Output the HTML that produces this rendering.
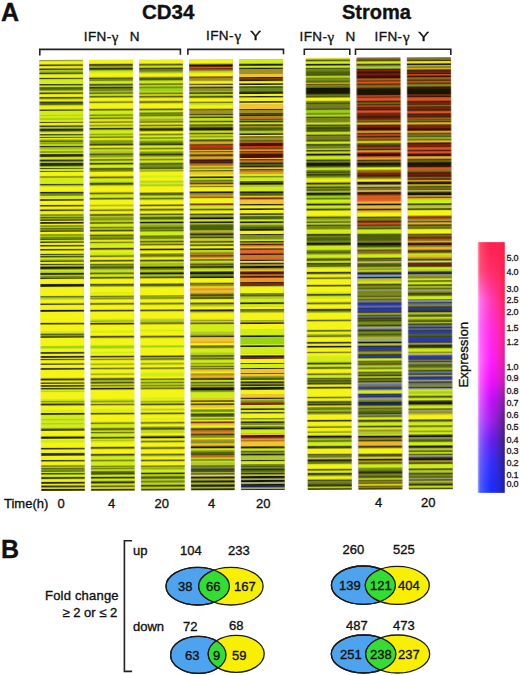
<!DOCTYPE html>
<html><head><meta charset="utf-8">
<style>
html,body{margin:0;padding:0;background:#fff;}
body{width:520px;height:675px;position:relative;overflow:hidden;font-family:"Liberation Sans",sans-serif;color:#111;}
.t{position:absolute;white-space:nowrap;line-height:1;-webkit-text-stroke:0.35px #111;}
.ifn{font-size:13.5px;letter-spacing:0.4px;}
svg{position:absolute;left:0;top:0;}
</style></head><body>
<svg width="520" height="675" viewBox="0 0 520 675">
<defs>
<linearGradient id="cbv" x1="0" y1="0" x2="0" y2="1">
<stop offset="0" stop-color="#ff1030"/>
<stop offset="0.35" stop-color="#ff20a0"/>
<stop offset="0.55" stop-color="#ff20ff"/>
<stop offset="0.75" stop-color="#a020ff"/>
<stop offset="1" stop-color="#1010ff"/>
</linearGradient>
<linearGradient id="cbh" x1="0" y1="0" x2="1" y2="0">
<stop offset="0" stop-color="#fff" stop-opacity="0.55"/>
<stop offset="0.5" stop-color="#fff" stop-opacity="0.1"/>
<stop offset="0.85" stop-color="#000" stop-opacity="0.0"/>
<stop offset="1" stop-color="#000" stop-opacity="0.35"/>
</linearGradient>
</defs>
<filter id="hb" x="-5%" y="-5%" width="110%" height="110%"><feGaussianBlur stdDeviation="0.45 0.35"/></filter>
<g transform="rotate(-0.25 260 275)" filter="url(#hb)">
<rect x="40.4" y="59.2" width="43.4" height="430.65000000000003" fill="#d8e020"/>
<rect x="40.4" y="59.20" width="43.4" height="0.44" fill="#141200"/>
<rect x="40.4" y="59.64" width="43.4" height="1.00" fill="#b0c830"/>
<rect x="40.4" y="60.64" width="43.4" height="3.00" fill="#f4f414"/>
<rect x="40.4" y="63.64" width="43.4" height="1.70" fill="#141200"/>
<rect x="40.4" y="65.34" width="43.4" height="2.30" fill="#f4f414"/>
<rect x="40.4" y="67.64" width="43.4" height="1.50" fill="#141200"/>
<rect x="40.4" y="69.14" width="43.4" height="1.50" fill="#b0c830"/>
<rect x="40.4" y="70.64" width="43.4" height="1.30" fill="#7e9c18"/>
<rect x="40.4" y="71.94" width="43.4" height="1.20" fill="#232c08"/>
<rect x="40.4" y="73.14" width="43.4" height="1.00" fill="#b0c830"/>
<rect x="40.4" y="74.14" width="43.4" height="2.80" fill="#f4f414"/>
<rect x="40.4" y="76.94" width="43.4" height="1.40" fill="#141200"/>
<rect x="40.4" y="78.34" width="43.4" height="3.80" fill="#d0ee14"/>
<rect x="40.4" y="82.14" width="43.4" height="1.00" fill="#f4f414"/>
<rect x="40.4" y="83.14" width="43.4" height="1.50" fill="#141200"/>
<rect x="40.4" y="84.64" width="43.4" height="1.50" fill="#d0ee14"/>
<rect x="40.4" y="86.14" width="43.4" height="2.50" fill="#4a6010"/>
<rect x="40.4" y="88.64" width="43.4" height="1.00" fill="#232c08"/>
<rect x="40.4" y="89.64" width="43.4" height="2.00" fill="#d0ee14"/>
<rect x="40.4" y="91.64" width="43.4" height="1.70" fill="#141200"/>
<rect x="40.4" y="93.34" width="43.4" height="2.80" fill="#f4f414"/>
<rect x="40.4" y="96.14" width="43.4" height="1.50" fill="#232c08"/>
<rect x="40.4" y="97.64" width="43.4" height="1.00" fill="#7e9c18"/>
<rect x="40.4" y="98.64" width="43.4" height="2.00" fill="#f4f414"/>
<rect x="40.4" y="100.64" width="43.4" height="1.30" fill="#232c08"/>
<rect x="40.4" y="101.94" width="43.4" height="2.20" fill="#4a6010"/>
<rect x="40.4" y="104.14" width="43.4" height="1.20" fill="#b0c830"/>
<rect x="40.4" y="105.34" width="43.4" height="3.30" fill="#f4f414"/>
<rect x="40.4" y="108.64" width="43.4" height="1.30" fill="#141200"/>
<rect x="40.4" y="109.94" width="43.4" height="4.20" fill="#d0ee14"/>
<rect x="40.4" y="114.14" width="43.4" height="1.00" fill="#b0c830"/>
<rect x="40.4" y="115.14" width="43.4" height="2.50" fill="#d0ee14"/>
<rect x="40.4" y="117.64" width="43.4" height="1.00" fill="#7e9c18"/>
<rect x="40.4" y="118.64" width="43.4" height="0.50" fill="#d0ee14"/>
<rect x="40.4" y="119.14" width="43.4" height="2.00" fill="#d0ee14"/>
<rect x="40.4" y="121.14" width="43.4" height="1.00" fill="#141200"/>
<rect x="40.4" y="122.14" width="43.4" height="2.50" fill="#f4f414"/>
<rect x="40.4" y="124.64" width="43.4" height="1.30" fill="#141200"/>
<rect x="40.4" y="125.94" width="43.4" height="1.20" fill="#b0c830"/>
<rect x="40.4" y="127.14" width="43.4" height="0.80" fill="#7e9c18"/>
<rect x="40.4" y="127.94" width="43.4" height="2.70" fill="#232c08"/>
<rect x="40.4" y="130.64" width="43.4" height="1.00" fill="#b0c830"/>
<rect x="40.4" y="131.64" width="43.4" height="1.50" fill="#f4f414"/>
<rect x="40.4" y="133.14" width="43.4" height="1.00" fill="#232c08"/>
<rect x="40.4" y="134.14" width="43.4" height="1.00" fill="#7e9c18"/>
<rect x="40.4" y="135.14" width="43.4" height="1.00" fill="#d0ee14"/>
<rect x="40.4" y="136.14" width="43.4" height="1.00" fill="#141200"/>
<rect x="40.4" y="137.14" width="43.4" height="1.50" fill="#f4f414"/>
<rect x="40.4" y="138.64" width="43.4" height="1.00" fill="#7e9c18"/>
<rect x="40.4" y="139.64" width="43.4" height="2.00" fill="#4a6010"/>
<rect x="40.4" y="141.64" width="43.4" height="1.00" fill="#d0ee14"/>
<rect x="40.4" y="142.64" width="43.4" height="0.70" fill="#141200"/>
<rect x="40.4" y="143.34" width="43.4" height="1.60" fill="#d0ee14"/>
<rect x="40.4" y="144.94" width="43.4" height="1.20" fill="#141200"/>
<rect x="40.4" y="146.14" width="43.4" height="1.50" fill="#7e9c18"/>
<rect x="40.4" y="147.64" width="43.4" height="1.50" fill="#b0c830"/>
<rect x="40.4" y="149.14" width="43.4" height="1.50" fill="#d0ee14"/>
<rect x="40.4" y="150.64" width="43.4" height="1.00" fill="#232c08"/>
<rect x="40.4" y="151.64" width="43.4" height="1.50" fill="#d0ee14"/>
<rect x="40.4" y="153.14" width="43.4" height="3.20" fill="#232c08"/>
<rect x="40.4" y="156.34" width="43.4" height="1.30" fill="#d0ee14"/>
<rect x="40.4" y="157.64" width="43.4" height="1.00" fill="#f4f414"/>
<rect x="40.4" y="158.64" width="43.4" height="2.00" fill="#141200"/>
<rect x="40.4" y="160.64" width="43.4" height="1.30" fill="#b0c830"/>
<rect x="40.4" y="161.94" width="43.4" height="3.70" fill="#232c08"/>
<rect x="40.4" y="165.64" width="43.4" height="1.50" fill="#d0ee14"/>
<rect x="40.4" y="167.14" width="43.4" height="1.00" fill="#141200"/>
<rect x="40.4" y="168.14" width="43.4" height="2.00" fill="#d0ee14"/>
<rect x="40.4" y="170.14" width="43.4" height="1.00" fill="#232c08"/>
<rect x="40.4" y="171.14" width="43.4" height="4.50" fill="#f4f414"/>
<rect x="40.4" y="175.64" width="43.4" height="1.00" fill="#232c08"/>
<rect x="40.4" y="176.64" width="43.4" height="6.50" fill="#d0ee14"/>
<rect x="40.4" y="183.14" width="43.4" height="1.00" fill="#141200"/>
<rect x="40.4" y="184.14" width="43.4" height="0.80" fill="#7e9c18"/>
<rect x="40.4" y="184.94" width="43.4" height="0.70" fill="#b0c830"/>
<rect x="40.4" y="185.64" width="43.4" height="5.30" fill="#f4f414"/>
<rect x="40.4" y="190.94" width="43.4" height="1.70" fill="#141200"/>
<rect x="40.4" y="192.64" width="43.4" height="2.50" fill="#6a8c1c"/>
<rect x="40.4" y="195.14" width="43.4" height="2.00" fill="#d0ee14"/>
<rect x="40.4" y="197.14" width="43.4" height="1.20" fill="#f4f414"/>
<rect x="40.4" y="198.34" width="43.4" height="1.60" fill="#141200"/>
<rect x="40.4" y="199.94" width="43.4" height="4.20" fill="#f4f414"/>
<rect x="40.4" y="204.14" width="43.4" height="1.50" fill="#141200"/>
<rect x="40.4" y="205.64" width="43.4" height="3.00" fill="#f4f414"/>
<rect x="40.4" y="208.64" width="43.4" height="1.70" fill="#141200"/>
<rect x="40.4" y="210.34" width="43.4" height="3.30" fill="#f4f414"/>
<rect x="40.4" y="213.64" width="43.4" height="1.00" fill="#232c08"/>
<rect x="40.4" y="214.64" width="43.4" height="1.30" fill="#b0c830"/>
<rect x="40.4" y="215.94" width="43.4" height="1.20" fill="#4a6010"/>
<rect x="40.4" y="217.14" width="43.4" height="1.50" fill="#7e9c18"/>
<rect x="40.4" y="218.64" width="43.4" height="1.30" fill="#232c08"/>
<rect x="40.4" y="219.94" width="43.4" height="1.20" fill="#f4f414"/>
<rect x="40.4" y="221.14" width="43.4" height="1.80" fill="#141200"/>
<rect x="40.4" y="222.94" width="43.4" height="1.70" fill="#f4f414"/>
<rect x="40.4" y="224.64" width="43.4" height="1.00" fill="#232c08"/>
<rect x="40.4" y="225.64" width="43.4" height="1.50" fill="#b0c830"/>
<rect x="40.4" y="227.14" width="43.4" height="1.50" fill="#4a6010"/>
<rect x="40.4" y="228.64" width="43.4" height="1.00" fill="#7e9c18"/>
<rect x="40.4" y="229.64" width="43.4" height="1.30" fill="#141200"/>
<rect x="40.4" y="230.94" width="43.4" height="2.70" fill="#f4f414"/>
<rect x="40.4" y="233.64" width="43.4" height="1.00" fill="#232c08"/>
<rect x="40.4" y="234.64" width="43.4" height="1.00" fill="#d0ee14"/>
<rect x="40.4" y="235.64" width="43.4" height="2.50" fill="#6a8c1c"/>
<rect x="40.4" y="238.14" width="43.4" height="1.00" fill="#232c08"/>
<rect x="40.4" y="239.14" width="43.4" height="1.50" fill="#d0ee14"/>
<rect x="40.4" y="240.64" width="43.4" height="1.50" fill="#141200"/>
<rect x="40.4" y="242.14" width="43.4" height="2.00" fill="#f4f414"/>
<rect x="40.4" y="244.14" width="43.4" height="1.50" fill="#141200"/>
<rect x="40.4" y="245.64" width="43.4" height="2.50" fill="#f4f414"/>
<rect x="40.4" y="248.14" width="43.4" height="1.50" fill="#141200"/>
<rect x="40.4" y="249.64" width="43.4" height="1.50" fill="#f4f414"/>
<rect x="40.4" y="251.14" width="43.4" height="1.80" fill="#f4f414"/>
<rect x="40.4" y="252.94" width="43.4" height="1.20" fill="#232c08"/>
<rect x="40.4" y="254.14" width="43.4" height="1.00" fill="#b0c830"/>
<rect x="40.4" y="255.14" width="43.4" height="1.50" fill="#232c08"/>
<rect x="40.4" y="256.64" width="43.4" height="1.50" fill="#d0ee14"/>
<rect x="40.4" y="258.14" width="43.4" height="1.50" fill="#b0c830"/>
<rect x="40.4" y="259.64" width="43.4" height="1.50" fill="#232c08"/>
<rect x="40.4" y="261.14" width="43.4" height="1.80" fill="#f4f414"/>
<rect x="40.4" y="262.94" width="43.4" height="1.20" fill="#232c08"/>
<rect x="40.4" y="264.14" width="43.4" height="1.50" fill="#b0c830"/>
<rect x="40.4" y="265.64" width="43.4" height="2.50" fill="#141200"/>
<rect x="40.4" y="268.14" width="43.4" height="1.00" fill="#7e9c18"/>
<rect x="40.4" y="269.14" width="43.4" height="1.50" fill="#d0ee14"/>
<rect x="40.4" y="270.64" width="43.4" height="1.50" fill="#b0c830"/>
<rect x="40.4" y="272.14" width="43.4" height="1.80" fill="#141200"/>
<rect x="40.4" y="273.94" width="43.4" height="1.20" fill="#b0c830"/>
<rect x="40.4" y="275.14" width="43.4" height="1.80" fill="#6a8c1c"/>
<rect x="40.4" y="276.94" width="43.4" height="1.20" fill="#141200"/>
<rect x="40.4" y="278.14" width="43.4" height="5.00" fill="#f4f414"/>
<rect x="40.4" y="283.14" width="43.4" height="3.00" fill="#141200"/>
<rect x="40.4" y="286.14" width="43.4" height="9.00" fill="#f4f414"/>
<rect x="40.4" y="295.14" width="43.4" height="1.50" fill="#4a6010"/>
<rect x="40.4" y="296.64" width="43.4" height="2.00" fill="#b0c830"/>
<rect x="40.4" y="298.64" width="43.4" height="4.00" fill="#f4f414"/>
<rect x="40.4" y="302.64" width="43.4" height="1.50" fill="#141200"/>
<rect x="40.4" y="304.14" width="43.4" height="4.80" fill="#f4f414"/>
<rect x="40.4" y="308.94" width="43.4" height="2.00" fill="#141200"/>
<rect x="40.4" y="310.94" width="43.4" height="7.20" fill="#f4f414"/>
<rect x="40.4" y="318.14" width="43.4" height="3.80" fill="#f4f414"/>
<rect x="40.4" y="321.94" width="43.4" height="1.70" fill="#141200"/>
<rect x="40.4" y="323.64" width="43.4" height="6.50" fill="#f4f414"/>
<rect x="40.4" y="330.14" width="43.4" height="1.50" fill="#d0ee14"/>
<rect x="40.4" y="331.64" width="43.4" height="1.00" fill="#e8e080"/>
<rect x="40.4" y="332.64" width="43.4" height="1.50" fill="#4a6010"/>
<rect x="40.4" y="334.14" width="43.4" height="1.20" fill="#7e9c18"/>
<rect x="40.4" y="335.34" width="43.4" height="1.60" fill="#232c08"/>
<rect x="40.4" y="336.94" width="43.4" height="8.20" fill="#f4f414"/>
<rect x="40.4" y="345.14" width="43.4" height="2.50" fill="#98d418"/>
<rect x="40.4" y="347.64" width="43.4" height="3.50" fill="#f4f414"/>
<rect x="40.4" y="351.14" width="43.4" height="1.80" fill="#232c08"/>
<rect x="40.4" y="352.94" width="43.4" height="2.20" fill="#f4f414"/>
<rect x="40.4" y="355.14" width="43.4" height="1.80" fill="#141200"/>
<rect x="40.4" y="356.94" width="43.4" height="1.00" fill="#f4f414"/>
<rect x="40.4" y="357.94" width="43.4" height="1.40" fill="#141200"/>
<rect x="40.4" y="359.34" width="43.4" height="3.30" fill="#f4f414"/>
<rect x="40.4" y="362.64" width="43.4" height="1.30" fill="#232c08"/>
<rect x="40.4" y="363.94" width="43.4" height="3.20" fill="#f4f414"/>
<rect x="40.4" y="367.14" width="43.4" height="1.80" fill="#232c08"/>
<rect x="40.4" y="368.94" width="43.4" height="8.70" fill="#f4f414"/>
<rect x="40.4" y="377.64" width="43.4" height="2.00" fill="#141200"/>
<rect x="40.4" y="379.64" width="43.4" height="2.00" fill="#f4f414"/>
<rect x="40.4" y="381.64" width="43.4" height="1.30" fill="#141200"/>
<rect x="40.4" y="382.94" width="43.4" height="1.20" fill="#f4f414"/>
<rect x="40.4" y="384.14" width="43.4" height="1.00" fill="#232c08"/>
<rect x="40.4" y="385.14" width="43.4" height="0.80" fill="#141200"/>
<rect x="40.4" y="385.94" width="43.4" height="1.00" fill="#f4f414"/>
<rect x="40.4" y="386.94" width="43.4" height="1.70" fill="#232c08"/>
<rect x="40.4" y="388.64" width="43.4" height="1.50" fill="#d0ee14"/>
<rect x="40.4" y="390.14" width="43.4" height="1.00" fill="#b0c830"/>
<rect x="40.4" y="391.14" width="43.4" height="7.00" fill="#f4f414"/>
<rect x="40.4" y="398.14" width="43.4" height="1.80" fill="#d0ee14"/>
<rect x="40.4" y="399.94" width="43.4" height="1.70" fill="#7e9c18"/>
<rect x="40.4" y="401.64" width="43.4" height="1.00" fill="#f4f414"/>
<rect x="40.4" y="402.64" width="43.4" height="2.00" fill="#141200"/>
<rect x="40.4" y="404.64" width="43.4" height="4.50" fill="#f4f414"/>
<rect x="40.4" y="409.14" width="43.4" height="1.50" fill="#d0ee14"/>
<rect x="40.4" y="410.64" width="43.4" height="1.50" fill="#f4f414"/>
<rect x="40.4" y="412.14" width="43.4" height="2.00" fill="#141200"/>
<rect x="40.4" y="414.14" width="43.4" height="4.00" fill="#d0ee14"/>
<rect x="40.4" y="418.14" width="43.4" height="1.50" fill="#b0c830"/>
<rect x="40.4" y="419.64" width="43.4" height="2.50" fill="#d0ee14"/>
<rect x="40.4" y="422.14" width="43.4" height="1.50" fill="#b0c830"/>
<rect x="40.4" y="423.64" width="43.4" height="3.50" fill="#d0ee14"/>
<rect x="40.4" y="427.14" width="43.4" height="1.20" fill="#7e9c18"/>
<rect x="40.4" y="428.34" width="43.4" height="1.60" fill="#141200"/>
<rect x="40.4" y="429.94" width="43.4" height="5.70" fill="#f4f414"/>
<rect x="40.4" y="435.64" width="43.4" height="2.30" fill="#141200"/>
<rect x="40.4" y="437.94" width="43.4" height="1.20" fill="#f4f414"/>
<rect x="40.4" y="439.14" width="43.4" height="2.50" fill="#d0ee14"/>
<rect x="40.4" y="441.64" width="43.4" height="5.30" fill="#f4f414"/>
<rect x="40.4" y="446.94" width="43.4" height="1.70" fill="#141200"/>
<rect x="40.4" y="448.64" width="43.4" height="3.50" fill="#f4f414"/>
<rect x="40.4" y="452.14" width="43.4" height="2.80" fill="#232c08"/>
<rect x="40.4" y="454.94" width="43.4" height="4.20" fill="#f4f414"/>
<rect x="40.4" y="459.14" width="43.4" height="1.50" fill="#141200"/>
<rect x="40.4" y="460.64" width="43.4" height="4.00" fill="#f4f414"/>
<rect x="40.4" y="464.64" width="43.4" height="1.00" fill="#232c08"/>
<rect x="40.4" y="465.64" width="43.4" height="1.50" fill="#b0c830"/>
<rect x="40.4" y="467.14" width="43.4" height="1.00" fill="#4a6010"/>
<rect x="40.4" y="468.14" width="43.4" height="1.50" fill="#6a8c1c"/>
<rect x="40.4" y="469.64" width="43.4" height="1.30" fill="#4a6010"/>
<rect x="40.4" y="470.94" width="43.4" height="1.20" fill="#d0ee14"/>
<rect x="40.4" y="472.14" width="43.4" height="1.50" fill="#141200"/>
<rect x="40.4" y="473.64" width="43.4" height="2.50" fill="#d0ee14"/>
<rect x="40.4" y="476.14" width="43.4" height="2.20" fill="#232c08"/>
<rect x="40.4" y="478.34" width="43.4" height="1.80" fill="#f4f414"/>
<rect x="40.4" y="480.14" width="43.4" height="1.00" fill="#d0ee14"/>
<rect x="40.4" y="481.14" width="43.4" height="1.80" fill="#141200"/>
<rect x="40.4" y="482.94" width="43.4" height="1.70" fill="#f4f414"/>
<rect x="40.4" y="484.64" width="43.4" height="2.00" fill="#141200"/>
<rect x="40.4" y="486.64" width="43.4" height="1.30" fill="#f4f414"/>
<rect x="40.4" y="487.94" width="43.4" height="1.91" fill="#141200"/>
<rect x="90.2" y="59.2" width="43.5" height="430.65000000000003" fill="#d8e020"/>
<rect x="90.2" y="59.20" width="43.5" height="4.15" fill="#f4f414"/>
<rect x="90.2" y="63.35" width="43.5" height="2.20" fill="#141200"/>
<rect x="90.2" y="65.55" width="43.5" height="1.30" fill="#b0c830"/>
<rect x="90.2" y="66.85" width="43.5" height="1.00" fill="#232c08"/>
<rect x="90.2" y="67.85" width="43.5" height="1.30" fill="#141200"/>
<rect x="90.2" y="69.15" width="43.5" height="1.20" fill="#7e9c18"/>
<rect x="90.2" y="70.35" width="43.5" height="2.00" fill="#d0ee14"/>
<rect x="90.2" y="72.35" width="43.5" height="4.50" fill="#f4f414"/>
<rect x="90.2" y="76.85" width="43.5" height="1.50" fill="#141200"/>
<rect x="90.2" y="78.35" width="43.5" height="1.00" fill="#7e9c18"/>
<rect x="90.2" y="79.35" width="43.5" height="1.00" fill="#232c08"/>
<rect x="90.2" y="80.35" width="43.5" height="3.00" fill="#d0ee14"/>
<rect x="90.2" y="83.35" width="43.5" height="1.50" fill="#141200"/>
<rect x="90.2" y="84.85" width="43.5" height="1.30" fill="#b0c830"/>
<rect x="90.2" y="86.15" width="43.5" height="1.70" fill="#141200"/>
<rect x="90.2" y="87.85" width="43.5" height="1.50" fill="#7e9c18"/>
<rect x="90.2" y="89.35" width="43.5" height="1.00" fill="#232c08"/>
<rect x="90.2" y="90.35" width="43.5" height="1.50" fill="#b0c830"/>
<rect x="90.2" y="91.85" width="43.5" height="1.50" fill="#141200"/>
<rect x="90.2" y="93.35" width="43.5" height="2.00" fill="#d0ee14"/>
<rect x="90.2" y="95.35" width="43.5" height="1.50" fill="#232c08"/>
<rect x="90.2" y="96.85" width="43.5" height="4.00" fill="#f4f414"/>
<rect x="90.2" y="100.85" width="43.5" height="1.50" fill="#232c08"/>
<rect x="90.2" y="102.35" width="43.5" height="6.00" fill="#f4f414"/>
<rect x="90.2" y="108.35" width="43.5" height="1.50" fill="#232c08"/>
<rect x="90.2" y="109.85" width="43.5" height="4.00" fill="#d0ee14"/>
<rect x="90.2" y="113.85" width="43.5" height="1.50" fill="#4a6010"/>
<rect x="90.2" y="115.35" width="43.5" height="1.50" fill="#d0ee14"/>
<rect x="90.2" y="116.85" width="43.5" height="1.50" fill="#232c08"/>
<rect x="90.2" y="118.35" width="43.5" height="1.00" fill="#d0ee14"/>
<rect x="90.2" y="119.35" width="43.5" height="1.50" fill="#f4f414"/>
<rect x="90.2" y="120.85" width="43.5" height="1.30" fill="#141200"/>
<rect x="90.2" y="122.15" width="43.5" height="1.70" fill="#f4f414"/>
<rect x="90.2" y="123.85" width="43.5" height="2.00" fill="#7e9c18"/>
<rect x="90.2" y="125.85" width="43.5" height="1.30" fill="#f4f414"/>
<rect x="90.2" y="127.15" width="43.5" height="2.20" fill="#232c08"/>
<rect x="90.2" y="129.35" width="43.5" height="4.00" fill="#d0ee14"/>
<rect x="90.2" y="133.35" width="43.5" height="1.00" fill="#4a6010"/>
<rect x="90.2" y="134.35" width="43.5" height="1.50" fill="#d0ee14"/>
<rect x="90.2" y="135.85" width="43.5" height="1.50" fill="#232c08"/>
<rect x="90.2" y="137.35" width="43.5" height="2.00" fill="#f4f414"/>
<rect x="90.2" y="139.35" width="43.5" height="4.00" fill="#7e9c18"/>
<rect x="90.2" y="143.35" width="43.5" height="1.80" fill="#141200"/>
<rect x="90.2" y="145.15" width="43.5" height="2.20" fill="#f4f414"/>
<rect x="90.2" y="147.35" width="43.5" height="1.20" fill="#232c08"/>
<rect x="90.2" y="148.55" width="43.5" height="1.30" fill="#d0ee14"/>
<rect x="90.2" y="149.85" width="43.5" height="3.00" fill="#b0c830"/>
<rect x="90.2" y="152.85" width="43.5" height="1.50" fill="#141200"/>
<rect x="90.2" y="154.35" width="43.5" height="2.50" fill="#7e9c18"/>
<rect x="90.2" y="156.85" width="43.5" height="1.50" fill="#f4f414"/>
<rect x="90.2" y="158.35" width="43.5" height="2.00" fill="#4a6010"/>
<rect x="90.2" y="160.35" width="43.5" height="1.80" fill="#d0ee14"/>
<rect x="90.2" y="162.15" width="43.5" height="2.00" fill="#232c08"/>
<rect x="90.2" y="164.15" width="43.5" height="2.20" fill="#d0ee14"/>
<rect x="90.2" y="166.35" width="43.5" height="1.00" fill="#f4f414"/>
<rect x="90.2" y="167.35" width="43.5" height="1.50" fill="#232c08"/>
<rect x="90.2" y="168.85" width="43.5" height="1.00" fill="#7e9c18"/>
<rect x="90.2" y="169.85" width="43.5" height="1.00" fill="#232c08"/>
<rect x="90.2" y="170.85" width="43.5" height="5.00" fill="#f4f414"/>
<rect x="90.2" y="175.85" width="43.5" height="1.70" fill="#141200"/>
<rect x="90.2" y="177.55" width="43.5" height="3.30" fill="#d0ee14"/>
<rect x="90.2" y="180.85" width="43.5" height="1.50" fill="#b0c830"/>
<rect x="90.2" y="182.35" width="43.5" height="1.80" fill="#141200"/>
<rect x="90.2" y="184.15" width="43.5" height="0.20" fill="#f4f414"/>
<rect x="90.2" y="184.35" width="43.5" height="1.00" fill="#7e9c18"/>
<rect x="90.2" y="185.35" width="43.5" height="6.50" fill="#f4f414"/>
<rect x="90.2" y="191.85" width="43.5" height="1.70" fill="#141200"/>
<rect x="90.2" y="193.55" width="43.5" height="3.80" fill="#d0ee14"/>
<rect x="90.2" y="197.35" width="43.5" height="1.50" fill="#232c08"/>
<rect x="90.2" y="198.85" width="43.5" height="5.50" fill="#f4f414"/>
<rect x="90.2" y="204.35" width="43.5" height="1.20" fill="#7e9c18"/>
<rect x="90.2" y="205.55" width="43.5" height="3.30" fill="#f4f414"/>
<rect x="90.2" y="208.85" width="43.5" height="1.50" fill="#141200"/>
<rect x="90.2" y="210.35" width="43.5" height="3.20" fill="#f4f414"/>
<rect x="90.2" y="213.55" width="43.5" height="1.60" fill="#141200"/>
<rect x="90.2" y="215.15" width="43.5" height="1.20" fill="#b0c830"/>
<rect x="90.2" y="216.35" width="43.5" height="4.00" fill="#7e9c18"/>
<rect x="90.2" y="220.35" width="43.5" height="1.20" fill="#f4f414"/>
<rect x="90.2" y="221.55" width="43.5" height="1.60" fill="#141200"/>
<rect x="90.2" y="223.15" width="43.5" height="3.20" fill="#d0ee14"/>
<rect x="90.2" y="226.35" width="43.5" height="1.20" fill="#232c08"/>
<rect x="90.2" y="227.55" width="43.5" height="1.60" fill="#b0c830"/>
<rect x="90.2" y="229.15" width="43.5" height="1.70" fill="#232c08"/>
<rect x="90.2" y="230.85" width="43.5" height="3.00" fill="#f4f414"/>
<rect x="90.2" y="233.85" width="43.5" height="1.50" fill="#141200"/>
<rect x="90.2" y="235.35" width="43.5" height="2.00" fill="#7e9c18"/>
<rect x="90.2" y="237.35" width="43.5" height="2.00" fill="#4a6010"/>
<rect x="90.2" y="239.35" width="43.5" height="1.80" fill="#f4f414"/>
<rect x="90.2" y="241.15" width="43.5" height="1.20" fill="#141200"/>
<rect x="90.2" y="242.35" width="43.5" height="3.50" fill="#d0ee14"/>
<rect x="90.2" y="245.85" width="43.5" height="1.50" fill="#f4f414"/>
<rect x="90.2" y="247.35" width="43.5" height="2.00" fill="#141200"/>
<rect x="90.2" y="249.35" width="43.5" height="2.00" fill="#f4f414"/>
<rect x="90.2" y="251.35" width="43.5" height="3.50" fill="#d0ee14"/>
<rect x="90.2" y="254.85" width="43.5" height="1.50" fill="#141200"/>
<rect x="90.2" y="256.35" width="43.5" height="3.00" fill="#f4f414"/>
<rect x="90.2" y="259.35" width="43.5" height="1.80" fill="#232c08"/>
<rect x="90.2" y="261.15" width="43.5" height="2.00" fill="#f4f414"/>
<rect x="90.2" y="263.15" width="43.5" height="1.00" fill="#232c08"/>
<rect x="90.2" y="264.15" width="43.5" height="1.20" fill="#7e9c18"/>
<rect x="90.2" y="265.35" width="43.5" height="3.20" fill="#4a6010"/>
<rect x="90.2" y="268.55" width="43.5" height="1.30" fill="#b0c830"/>
<rect x="90.2" y="269.85" width="43.5" height="2.00" fill="#d0ee14"/>
<rect x="90.2" y="271.85" width="43.5" height="1.70" fill="#141200"/>
<rect x="90.2" y="273.55" width="43.5" height="2.80" fill="#d0ee14"/>
<rect x="90.2" y="276.35" width="43.5" height="1.80" fill="#232c08"/>
<rect x="90.2" y="278.15" width="43.5" height="5.00" fill="#f4f414"/>
<rect x="90.2" y="283.15" width="43.5" height="1.40" fill="#232c08"/>
<rect x="90.2" y="284.55" width="43.5" height="1.30" fill="#4a6010"/>
<rect x="90.2" y="285.85" width="43.5" height="6.00" fill="#f4f414"/>
<rect x="90.2" y="291.85" width="43.5" height="1.50" fill="#d0ee14"/>
<rect x="90.2" y="293.35" width="43.5" height="1.80" fill="#f4f414"/>
<rect x="90.2" y="295.15" width="43.5" height="1.20" fill="#232c08"/>
<rect x="90.2" y="296.35" width="43.5" height="1.20" fill="#b0c830"/>
<rect x="90.2" y="297.55" width="43.5" height="1.00" fill="#232c08"/>
<rect x="90.2" y="298.55" width="43.5" height="4.00" fill="#f4f414"/>
<rect x="90.2" y="302.55" width="43.5" height="1.60" fill="#141200"/>
<rect x="90.2" y="304.15" width="43.5" height="5.00" fill="#f4f414"/>
<rect x="90.2" y="309.15" width="43.5" height="1.70" fill="#141200"/>
<rect x="90.2" y="310.85" width="43.5" height="7.50" fill="#f4f414"/>
<rect x="90.2" y="318.35" width="43.5" height="1.50" fill="#d0ee14"/>
<rect x="90.2" y="319.85" width="43.5" height="1.30" fill="#7e9c18"/>
<rect x="90.2" y="321.15" width="43.5" height="1.00" fill="#f4f414"/>
<rect x="90.2" y="322.15" width="43.5" height="2.00" fill="#141200"/>
<rect x="90.2" y="324.15" width="43.5" height="6.20" fill="#f4f414"/>
<rect x="90.2" y="330.35" width="43.5" height="1.50" fill="#d0ee14"/>
<rect x="90.2" y="331.85" width="43.5" height="3.50" fill="#f4f414"/>
<rect x="90.2" y="335.35" width="43.5" height="2.00" fill="#141200"/>
<rect x="90.2" y="337.35" width="43.5" height="7.50" fill="#f4f414"/>
<rect x="90.2" y="344.85" width="43.5" height="3.00" fill="#98d418"/>
<rect x="90.2" y="347.85" width="43.5" height="3.50" fill="#f4f414"/>
<rect x="90.2" y="351.35" width="43.5" height="1.50" fill="#d0ee14"/>
<rect x="90.2" y="352.85" width="43.5" height="2.30" fill="#f4f414"/>
<rect x="90.2" y="355.15" width="43.5" height="1.70" fill="#141200"/>
<rect x="90.2" y="356.85" width="43.5" height="1.30" fill="#f4f414"/>
<rect x="90.2" y="358.15" width="43.5" height="1.20" fill="#232c08"/>
<rect x="90.2" y="359.35" width="43.5" height="3.50" fill="#f4f414"/>
<rect x="90.2" y="362.85" width="43.5" height="1.50" fill="#7e9c18"/>
<rect x="90.2" y="364.35" width="43.5" height="2.80" fill="#f4f414"/>
<rect x="90.2" y="367.15" width="43.5" height="1.40" fill="#232c08"/>
<rect x="90.2" y="368.55" width="43.5" height="4.30" fill="#f4f414"/>
<rect x="90.2" y="372.85" width="43.5" height="1.50" fill="#7e9c18"/>
<rect x="90.2" y="374.35" width="43.5" height="3.20" fill="#f4f414"/>
<rect x="90.2" y="377.55" width="43.5" height="2.00" fill="#141200"/>
<rect x="90.2" y="379.55" width="43.5" height="1.80" fill="#b0c830"/>
<rect x="90.2" y="381.35" width="43.5" height="1.80" fill="#232c08"/>
<rect x="90.2" y="383.15" width="43.5" height="1.20" fill="#f4f414"/>
<rect x="90.2" y="384.35" width="43.5" height="1.00" fill="#232c08"/>
<rect x="90.2" y="385.35" width="43.5" height="1.00" fill="#7e9c18"/>
<rect x="90.2" y="386.35" width="43.5" height="0.80" fill="#f4f414"/>
<rect x="90.2" y="387.15" width="43.5" height="2.00" fill="#141200"/>
<rect x="90.2" y="389.15" width="43.5" height="9.20" fill="#f4f414"/>
<rect x="90.2" y="398.35" width="43.5" height="1.50" fill="#d0ee14"/>
<rect x="90.2" y="399.85" width="43.5" height="2.00" fill="#7e9c18"/>
<rect x="90.2" y="401.85" width="43.5" height="1.30" fill="#f4f414"/>
<rect x="90.2" y="403.15" width="43.5" height="1.40" fill="#141200"/>
<rect x="90.2" y="404.55" width="43.5" height="4.30" fill="#f4f414"/>
<rect x="90.2" y="408.85" width="43.5" height="2.00" fill="#d0ee14"/>
<rect x="90.2" y="410.85" width="43.5" height="1.30" fill="#f4f414"/>
<rect x="90.2" y="412.15" width="43.5" height="1.70" fill="#232c08"/>
<rect x="90.2" y="413.85" width="43.5" height="8.00" fill="#f4f414"/>
<rect x="90.2" y="421.85" width="43.5" height="1.50" fill="#232c08"/>
<rect x="90.2" y="423.35" width="43.5" height="4.00" fill="#d0ee14"/>
<rect x="90.2" y="427.35" width="43.5" height="2.50" fill="#4a6010"/>
<rect x="90.2" y="429.85" width="43.5" height="1.30" fill="#f4f414"/>
<rect x="90.2" y="431.15" width="43.5" height="1.40" fill="#232c08"/>
<rect x="90.2" y="432.55" width="43.5" height="3.80" fill="#d0ee14"/>
<rect x="90.2" y="436.35" width="43.5" height="1.80" fill="#141200"/>
<rect x="90.2" y="438.15" width="43.5" height="1.20" fill="#f4f414"/>
<rect x="90.2" y="439.35" width="43.5" height="1.00" fill="#7e9c18"/>
<rect x="90.2" y="440.35" width="43.5" height="1.50" fill="#d0ee14"/>
<rect x="90.2" y="441.85" width="43.5" height="4.50" fill="#f4f414"/>
<rect x="90.2" y="446.35" width="43.5" height="2.00" fill="#141200"/>
<rect x="90.2" y="448.35" width="43.5" height="5.00" fill="#f4f414"/>
<rect x="90.2" y="453.35" width="43.5" height="2.00" fill="#141200"/>
<rect x="90.2" y="455.35" width="43.5" height="4.00" fill="#d0ee14"/>
<rect x="90.2" y="459.35" width="43.5" height="1.20" fill="#232c08"/>
<rect x="90.2" y="460.55" width="43.5" height="4.60" fill="#d0ee14"/>
<rect x="90.2" y="465.15" width="43.5" height="1.20" fill="#232c08"/>
<rect x="90.2" y="466.35" width="43.5" height="1.00" fill="#d0ee14"/>
<rect x="90.2" y="467.35" width="43.5" height="1.20" fill="#232c08"/>
<rect x="90.2" y="468.55" width="43.5" height="1.80" fill="#d0ee14"/>
<rect x="90.2" y="470.35" width="43.5" height="2.50" fill="#4a6010"/>
<rect x="90.2" y="472.85" width="43.5" height="1.30" fill="#141200"/>
<rect x="90.2" y="474.15" width="43.5" height="2.00" fill="#d0ee14"/>
<rect x="90.2" y="476.15" width="43.5" height="2.00" fill="#141200"/>
<rect x="90.2" y="478.15" width="43.5" height="2.40" fill="#d0ee14"/>
<rect x="90.2" y="480.55" width="43.5" height="2.30" fill="#141200"/>
<rect x="90.2" y="482.85" width="43.5" height="2.00" fill="#d0ee14"/>
<rect x="90.2" y="484.85" width="43.5" height="1.70" fill="#141200"/>
<rect x="90.2" y="486.55" width="43.5" height="1.60" fill="#f4f414"/>
<rect x="90.2" y="488.15" width="43.5" height="1.70" fill="#141200"/>
<rect x="140.2" y="59.2" width="43.5" height="430.65000000000003" fill="#d8e020"/>
<rect x="140.2" y="59.20" width="43.5" height="4.37" fill="#f4f414"/>
<rect x="140.2" y="63.57" width="43.5" height="1.80" fill="#141200"/>
<rect x="140.2" y="65.37" width="43.5" height="2.00" fill="#d0ee14"/>
<rect x="140.2" y="67.37" width="43.5" height="2.00" fill="#141200"/>
<rect x="140.2" y="69.37" width="43.5" height="1.00" fill="#7e9c18"/>
<rect x="140.2" y="70.37" width="43.5" height="1.00" fill="#232c08"/>
<rect x="140.2" y="71.37" width="43.5" height="1.70" fill="#b0c830"/>
<rect x="140.2" y="73.07" width="43.5" height="3.70" fill="#f4f414"/>
<rect x="140.2" y="76.77" width="43.5" height="1.00" fill="#232c08"/>
<rect x="140.2" y="77.77" width="43.5" height="2.60" fill="#4a6010"/>
<rect x="140.2" y="80.37" width="43.5" height="2.70" fill="#d0ee14"/>
<rect x="140.2" y="83.07" width="43.5" height="1.50" fill="#141200"/>
<rect x="140.2" y="84.57" width="43.5" height="1.80" fill="#d0ee14"/>
<rect x="140.2" y="86.37" width="43.5" height="1.20" fill="#232c08"/>
<rect x="140.2" y="87.57" width="43.5" height="4.00" fill="#98d418"/>
<rect x="140.2" y="91.57" width="43.5" height="1.00" fill="#d0ee14"/>
<rect x="140.2" y="92.57" width="43.5" height="1.20" fill="#141200"/>
<rect x="140.2" y="93.77" width="43.5" height="1.80" fill="#f4f414"/>
<rect x="140.2" y="95.57" width="43.5" height="1.80" fill="#141200"/>
<rect x="140.2" y="97.37" width="43.5" height="3.40" fill="#f4f414"/>
<rect x="140.2" y="100.77" width="43.5" height="1.80" fill="#141200"/>
<rect x="140.2" y="102.57" width="43.5" height="5.50" fill="#f4f414"/>
<rect x="140.2" y="108.07" width="43.5" height="2.00" fill="#4a6010"/>
<rect x="140.2" y="110.07" width="43.5" height="2.00" fill="#d0ee14"/>
<rect x="140.2" y="112.07" width="43.5" height="1.00" fill="#232c08"/>
<rect x="140.2" y="113.07" width="43.5" height="1.50" fill="#7e9c18"/>
<rect x="140.2" y="114.57" width="43.5" height="1.20" fill="#232c08"/>
<rect x="140.2" y="115.77" width="43.5" height="1.80" fill="#d0ee14"/>
<rect x="140.2" y="117.57" width="43.5" height="1.50" fill="#b0c830"/>
<rect x="140.2" y="119.07" width="43.5" height="0.50" fill="#232c08"/>
<rect x="140.2" y="119.57" width="43.5" height="1.50" fill="#b0c830"/>
<rect x="140.2" y="121.07" width="43.5" height="1.30" fill="#141200"/>
<rect x="140.2" y="122.37" width="43.5" height="2.00" fill="#f4f414"/>
<rect x="140.2" y="124.37" width="43.5" height="1.70" fill="#4a6010"/>
<rect x="140.2" y="126.07" width="43.5" height="1.30" fill="#f4f414"/>
<rect x="140.2" y="127.37" width="43.5" height="3.40" fill="#232c08"/>
<rect x="140.2" y="130.77" width="43.5" height="2.80" fill="#f4f414"/>
<rect x="140.2" y="133.57" width="43.5" height="1.20" fill="#232c08"/>
<rect x="140.2" y="134.77" width="43.5" height="2.30" fill="#d0ee14"/>
<rect x="140.2" y="137.07" width="43.5" height="1.30" fill="#232c08"/>
<rect x="140.2" y="138.37" width="43.5" height="1.70" fill="#d0ee14"/>
<rect x="140.2" y="140.07" width="43.5" height="2.00" fill="#7e9c18"/>
<rect x="140.2" y="142.07" width="43.5" height="1.50" fill="#4a6010"/>
<rect x="140.2" y="143.57" width="43.5" height="1.50" fill="#141200"/>
<rect x="140.2" y="145.07" width="43.5" height="2.70" fill="#d0ee14"/>
<rect x="140.2" y="147.77" width="43.5" height="1.30" fill="#232c08"/>
<rect x="140.2" y="149.07" width="43.5" height="1.70" fill="#f4f414"/>
<rect x="140.2" y="150.77" width="43.5" height="2.60" fill="#7e9c18"/>
<rect x="140.2" y="153.37" width="43.5" height="1.70" fill="#141200"/>
<rect x="140.2" y="155.07" width="43.5" height="1.70" fill="#7e9c18"/>
<rect x="140.2" y="156.77" width="43.5" height="1.80" fill="#f4f414"/>
<rect x="140.2" y="158.57" width="43.5" height="1.20" fill="#232c08"/>
<rect x="140.2" y="159.77" width="43.5" height="2.80" fill="#d0ee14"/>
<rect x="140.2" y="162.57" width="43.5" height="1.80" fill="#232c08"/>
<rect x="140.2" y="164.37" width="43.5" height="3.00" fill="#6a8c1c"/>
<rect x="140.2" y="167.37" width="43.5" height="1.40" fill="#141200"/>
<rect x="140.2" y="168.77" width="43.5" height="1.30" fill="#d0ee14"/>
<rect x="140.2" y="170.07" width="43.5" height="1.00" fill="#4a6010"/>
<rect x="140.2" y="171.07" width="43.5" height="4.50" fill="#f4f414"/>
<rect x="140.2" y="175.57" width="43.5" height="1.50" fill="#d0ee14"/>
<rect x="140.2" y="177.07" width="43.5" height="3.50" fill="#f4f414"/>
<rect x="140.2" y="180.57" width="43.5" height="1.50" fill="#b0c830"/>
<rect x="140.2" y="182.07" width="43.5" height="2.50" fill="#d0ee14"/>
<rect x="140.2" y="184.57" width="43.5" height="1.00" fill="#7e9c18"/>
<rect x="140.2" y="185.57" width="43.5" height="6.50" fill="#f4f414"/>
<rect x="140.2" y="192.07" width="43.5" height="1.50" fill="#232c08"/>
<rect x="140.2" y="193.57" width="43.5" height="1.80" fill="#4a6010"/>
<rect x="140.2" y="195.37" width="43.5" height="2.00" fill="#d0ee14"/>
<rect x="140.2" y="197.37" width="43.5" height="2.00" fill="#4a6010"/>
<rect x="140.2" y="199.37" width="43.5" height="4.70" fill="#f4f414"/>
<rect x="140.2" y="204.07" width="43.5" height="1.70" fill="#232c08"/>
<rect x="140.2" y="205.77" width="43.5" height="2.80" fill="#f4f414"/>
<rect x="140.2" y="208.57" width="43.5" height="1.80" fill="#141200"/>
<rect x="140.2" y="210.37" width="43.5" height="2.70" fill="#f4f414"/>
<rect x="140.2" y="213.07" width="43.5" height="2.00" fill="#4a6010"/>
<rect x="140.2" y="215.07" width="43.5" height="1.00" fill="#d0ee14"/>
<rect x="140.2" y="216.07" width="43.5" height="3.50" fill="#4a6010"/>
<rect x="140.2" y="219.57" width="43.5" height="1.50" fill="#d0ee14"/>
<rect x="140.2" y="221.07" width="43.5" height="2.00" fill="#141200"/>
<rect x="140.2" y="223.07" width="43.5" height="1.50" fill="#b0c830"/>
<rect x="140.2" y="224.57" width="43.5" height="2.50" fill="#7e9c18"/>
<rect x="140.2" y="227.07" width="43.5" height="1.50" fill="#232c08"/>
<rect x="140.2" y="228.57" width="43.5" height="1.50" fill="#7e9c18"/>
<rect x="140.2" y="230.07" width="43.5" height="1.00" fill="#232c08"/>
<rect x="140.2" y="231.07" width="43.5" height="4.00" fill="#d0ee14"/>
<rect x="140.2" y="235.07" width="43.5" height="1.00" fill="#232c08"/>
<rect x="140.2" y="236.07" width="43.5" height="1.30" fill="#7e9c18"/>
<rect x="140.2" y="237.37" width="43.5" height="1.20" fill="#232c08"/>
<rect x="140.2" y="238.57" width="43.5" height="2.00" fill="#d0ee14"/>
<rect x="140.2" y="240.57" width="43.5" height="1.80" fill="#141200"/>
<rect x="140.2" y="242.37" width="43.5" height="1.20" fill="#f4f414"/>
<rect x="140.2" y="243.57" width="43.5" height="1.50" fill="#232c08"/>
<rect x="140.2" y="245.07" width="43.5" height="3.00" fill="#f4f414"/>
<rect x="140.2" y="248.07" width="43.5" height="2.00" fill="#141200"/>
<rect x="140.2" y="250.07" width="43.5" height="1.50" fill="#f4f414"/>
<rect x="140.2" y="251.57" width="43.5" height="1.80" fill="#f4f414"/>
<rect x="140.2" y="253.37" width="43.5" height="1.20" fill="#232c08"/>
<rect x="140.2" y="254.57" width="43.5" height="0.80" fill="#7e9c18"/>
<rect x="140.2" y="255.37" width="43.5" height="1.20" fill="#232c08"/>
<rect x="140.2" y="256.57" width="43.5" height="2.80" fill="#f4f414"/>
<rect x="140.2" y="259.37" width="43.5" height="2.00" fill="#232c08"/>
<rect x="140.2" y="261.37" width="43.5" height="1.70" fill="#d0ee14"/>
<rect x="140.2" y="263.07" width="43.5" height="1.50" fill="#7e9c18"/>
<rect x="140.2" y="264.57" width="43.5" height="1.20" fill="#d0ee14"/>
<rect x="140.2" y="265.77" width="43.5" height="2.80" fill="#141200"/>
<rect x="140.2" y="268.57" width="43.5" height="1.50" fill="#7e9c18"/>
<rect x="140.2" y="270.07" width="43.5" height="1.50" fill="#d0ee14"/>
<rect x="140.2" y="271.57" width="43.5" height="2.80" fill="#141200"/>
<rect x="140.2" y="274.37" width="43.5" height="1.70" fill="#b0c830"/>
<rect x="140.2" y="276.07" width="43.5" height="1.70" fill="#141200"/>
<rect x="140.2" y="277.77" width="43.5" height="5.30" fill="#f4f414"/>
<rect x="140.2" y="283.07" width="43.5" height="1.50" fill="#232c08"/>
<rect x="140.2" y="284.57" width="43.5" height="1.80" fill="#4a6010"/>
<rect x="140.2" y="286.37" width="43.5" height="8.70" fill="#f4f414"/>
<rect x="140.2" y="295.07" width="43.5" height="1.30" fill="#232c08"/>
<rect x="140.2" y="296.37" width="43.5" height="0.70" fill="#d0ee14"/>
<rect x="140.2" y="297.07" width="43.5" height="1.50" fill="#4a6010"/>
<rect x="140.2" y="298.57" width="43.5" height="3.80" fill="#f4f414"/>
<rect x="140.2" y="302.37" width="43.5" height="2.00" fill="#4a6010"/>
<rect x="140.2" y="304.37" width="43.5" height="4.70" fill="#f4f414"/>
<rect x="140.2" y="309.07" width="43.5" height="1.70" fill="#141200"/>
<rect x="140.2" y="310.77" width="43.5" height="7.80" fill="#f4f414"/>
<rect x="140.2" y="318.57" width="43.5" height="2.50" fill="#b0c830"/>
<rect x="140.2" y="321.07" width="43.5" height="0.50" fill="#232c08"/>
<rect x="140.2" y="321.57" width="43.5" height="0.80" fill="#f4f414"/>
<rect x="140.2" y="322.37" width="43.5" height="1.40" fill="#232c08"/>
<rect x="140.2" y="323.77" width="43.5" height="5.80" fill="#f4f414"/>
<rect x="140.2" y="329.57" width="43.5" height="1.50" fill="#d0ee14"/>
<rect x="140.2" y="331.07" width="43.5" height="4.50" fill="#f4f414"/>
<rect x="140.2" y="335.57" width="43.5" height="1.80" fill="#141200"/>
<rect x="140.2" y="337.37" width="43.5" height="7.70" fill="#f4f414"/>
<rect x="140.2" y="345.07" width="43.5" height="2.00" fill="#98d418"/>
<rect x="140.2" y="347.07" width="43.5" height="8.00" fill="#f4f414"/>
<rect x="140.2" y="355.07" width="43.5" height="1.70" fill="#141200"/>
<rect x="140.2" y="356.77" width="43.5" height="1.30" fill="#b0c830"/>
<rect x="140.2" y="358.07" width="43.5" height="1.50" fill="#232c08"/>
<rect x="140.2" y="359.57" width="43.5" height="3.00" fill="#f4f414"/>
<rect x="140.2" y="362.57" width="43.5" height="1.80" fill="#7e9c18"/>
<rect x="140.2" y="364.37" width="43.5" height="2.70" fill="#f4f414"/>
<rect x="140.2" y="367.07" width="43.5" height="1.50" fill="#232c08"/>
<rect x="140.2" y="368.57" width="43.5" height="4.00" fill="#f4f414"/>
<rect x="140.2" y="372.57" width="43.5" height="3.50" fill="#d0ee14"/>
<rect x="140.2" y="376.07" width="43.5" height="2.00" fill="#f4f414"/>
<rect x="140.2" y="378.07" width="43.5" height="1.50" fill="#141200"/>
<rect x="140.2" y="379.57" width="43.5" height="2.00" fill="#d0ee14"/>
<rect x="140.2" y="381.57" width="43.5" height="1.50" fill="#4a6010"/>
<rect x="140.2" y="383.07" width="43.5" height="1.50" fill="#d0ee14"/>
<rect x="140.2" y="384.57" width="43.5" height="1.00" fill="#232c08"/>
<rect x="140.2" y="385.57" width="43.5" height="1.00" fill="#7e9c18"/>
<rect x="140.2" y="386.57" width="43.5" height="0.80" fill="#f4f414"/>
<rect x="140.2" y="387.37" width="43.5" height="1.40" fill="#232c08"/>
<rect x="140.2" y="388.77" width="43.5" height="8.80" fill="#f4f414"/>
<rect x="140.2" y="397.57" width="43.5" height="1.50" fill="#d0ee14"/>
<rect x="140.2" y="399.07" width="43.5" height="1.50" fill="#f4f414"/>
<rect x="140.2" y="400.57" width="43.5" height="1.50" fill="#7e9c18"/>
<rect x="140.2" y="402.07" width="43.5" height="1.00" fill="#d0ee14"/>
<rect x="140.2" y="403.07" width="43.5" height="1.70" fill="#141200"/>
<rect x="140.2" y="404.77" width="43.5" height="3.80" fill="#f4f414"/>
<rect x="140.2" y="408.57" width="43.5" height="1.50" fill="#b0c830"/>
<rect x="140.2" y="410.07" width="43.5" height="2.00" fill="#f4f414"/>
<rect x="140.2" y="412.07" width="43.5" height="2.00" fill="#4a6010"/>
<rect x="140.2" y="414.07" width="43.5" height="4.00" fill="#f4f414"/>
<rect x="140.2" y="418.07" width="43.5" height="1.00" fill="#d0ee14"/>
<rect x="140.2" y="419.07" width="43.5" height="2.70" fill="#f4f414"/>
<rect x="140.2" y="421.77" width="43.5" height="1.60" fill="#232c08"/>
<rect x="140.2" y="423.37" width="43.5" height="2.70" fill="#f4f414"/>
<rect x="140.2" y="426.07" width="43.5" height="1.50" fill="#7e9c18"/>
<rect x="140.2" y="427.57" width="43.5" height="2.00" fill="#232c08"/>
<rect x="140.2" y="429.57" width="43.5" height="1.50" fill="#d0ee14"/>
<rect x="140.2" y="431.07" width="43.5" height="1.50" fill="#b0c830"/>
<rect x="140.2" y="432.57" width="43.5" height="3.00" fill="#f4f414"/>
<rect x="140.2" y="435.57" width="43.5" height="2.50" fill="#141200"/>
<rect x="140.2" y="438.07" width="43.5" height="1.50" fill="#f4f414"/>
<rect x="140.2" y="439.57" width="43.5" height="0.80" fill="#f4f414"/>
<rect x="140.2" y="440.37" width="43.5" height="1.70" fill="#4a6010"/>
<rect x="140.2" y="442.07" width="43.5" height="4.70" fill="#f4f414"/>
<rect x="140.2" y="446.77" width="43.5" height="1.80" fill="#141200"/>
<rect x="140.2" y="448.57" width="43.5" height="5.00" fill="#f4f414"/>
<rect x="140.2" y="453.57" width="43.5" height="1.80" fill="#232c08"/>
<rect x="140.2" y="455.37" width="43.5" height="1.20" fill="#d0ee14"/>
<rect x="140.2" y="456.57" width="43.5" height="2.80" fill="#f4f414"/>
<rect x="140.2" y="459.37" width="43.5" height="1.40" fill="#141200"/>
<rect x="140.2" y="460.77" width="43.5" height="4.30" fill="#f4f414"/>
<rect x="140.2" y="465.07" width="43.5" height="1.50" fill="#232c08"/>
<rect x="140.2" y="466.57" width="43.5" height="1.20" fill="#d0ee14"/>
<rect x="140.2" y="467.77" width="43.5" height="1.00" fill="#4a6010"/>
<rect x="140.2" y="468.77" width="43.5" height="3.30" fill="#d0ee14"/>
<rect x="140.2" y="472.07" width="43.5" height="2.00" fill="#232c08"/>
<rect x="140.2" y="474.07" width="43.5" height="1.50" fill="#d0ee14"/>
<rect x="140.2" y="475.57" width="43.5" height="3.20" fill="#4a6010"/>
<rect x="140.2" y="478.77" width="43.5" height="1.30" fill="#d0ee14"/>
<rect x="140.2" y="480.07" width="43.5" height="1.50" fill="#4a6010"/>
<rect x="140.2" y="481.57" width="43.5" height="1.20" fill="#7e9c18"/>
<rect x="140.2" y="482.77" width="43.5" height="1.60" fill="#d0ee14"/>
<rect x="140.2" y="484.37" width="43.5" height="2.20" fill="#141200"/>
<rect x="140.2" y="486.57" width="43.5" height="1.80" fill="#d0ee14"/>
<rect x="140.2" y="488.37" width="43.5" height="1.48" fill="#141200"/>
<rect x="190.2" y="59.2" width="43.4" height="430.65000000000003" fill="#b0a020"/>
<rect x="190.2" y="59.20" width="43.4" height="4.59" fill="#f4f414"/>
<rect x="190.2" y="63.79" width="43.4" height="2.20" fill="#141200"/>
<rect x="190.2" y="65.99" width="43.4" height="1.30" fill="#7a2a10"/>
<rect x="190.2" y="67.29" width="43.4" height="0.70" fill="#e06830"/>
<rect x="190.2" y="67.99" width="43.4" height="1.60" fill="#501008"/>
<rect x="190.2" y="69.59" width="43.4" height="1.70" fill="#a09028"/>
<rect x="190.2" y="71.29" width="43.4" height="1.30" fill="#d0ee14"/>
<rect x="190.2" y="72.59" width="43.4" height="3.70" fill="#f4f414"/>
<rect x="190.2" y="76.29" width="43.4" height="1.50" fill="#7a2a10"/>
<rect x="190.2" y="77.79" width="43.4" height="3.00" fill="#a09028"/>
<rect x="190.2" y="80.79" width="43.4" height="3.00" fill="#f4f414"/>
<rect x="190.2" y="83.79" width="43.4" height="1.20" fill="#141200"/>
<rect x="190.2" y="84.99" width="43.4" height="1.60" fill="#e8e080"/>
<rect x="190.2" y="86.59" width="43.4" height="1.40" fill="#141200"/>
<rect x="190.2" y="87.99" width="43.4" height="3.30" fill="#8a9020"/>
<rect x="190.2" y="91.29" width="43.4" height="1.00" fill="#b0c830"/>
<rect x="190.2" y="92.29" width="43.4" height="1.50" fill="#141200"/>
<rect x="190.2" y="93.79" width="43.4" height="2.00" fill="#d0ee14"/>
<rect x="190.2" y="95.79" width="43.4" height="1.80" fill="#141200"/>
<rect x="190.2" y="97.59" width="43.4" height="4.20" fill="#f4f414"/>
<rect x="190.2" y="101.79" width="43.4" height="1.00" fill="#232c08"/>
<rect x="190.2" y="102.79" width="43.4" height="2.00" fill="#d0ee14"/>
<rect x="190.2" y="104.79" width="43.4" height="4.00" fill="#f4f414"/>
<rect x="190.2" y="108.79" width="43.4" height="1.20" fill="#232c08"/>
<rect x="190.2" y="109.99" width="43.4" height="2.80" fill="#a09028"/>
<rect x="190.2" y="112.79" width="43.4" height="1.20" fill="#8a9020"/>
<rect x="190.2" y="113.99" width="43.4" height="1.00" fill="#232c08"/>
<rect x="190.2" y="114.99" width="43.4" height="1.60" fill="#b0c830"/>
<rect x="190.2" y="116.59" width="43.4" height="1.40" fill="#232c08"/>
<rect x="190.2" y="117.99" width="43.4" height="1.80" fill="#d0ee14"/>
<rect x="190.2" y="119.79" width="43.4" height="1.00" fill="#d0ee14"/>
<rect x="190.2" y="120.79" width="43.4" height="1.50" fill="#232c08"/>
<rect x="190.2" y="122.29" width="43.4" height="2.00" fill="#d0ee14"/>
<rect x="190.2" y="124.29" width="43.4" height="1.30" fill="#232c08"/>
<rect x="190.2" y="125.59" width="43.4" height="1.70" fill="#8a9020"/>
<rect x="190.2" y="127.29" width="43.4" height="3.30" fill="#141200"/>
<rect x="190.2" y="130.59" width="43.4" height="2.20" fill="#d0ee14"/>
<rect x="190.2" y="132.79" width="43.4" height="1.50" fill="#232c08"/>
<rect x="190.2" y="134.29" width="43.4" height="1.50" fill="#d0ee14"/>
<rect x="190.2" y="135.79" width="43.4" height="1.50" fill="#8a9020"/>
<rect x="190.2" y="137.29" width="43.4" height="2.00" fill="#d0ee14"/>
<rect x="190.2" y="139.29" width="43.4" height="1.50" fill="#232c08"/>
<rect x="190.2" y="140.79" width="43.4" height="1.50" fill="#a09028"/>
<rect x="190.2" y="142.29" width="43.4" height="1.50" fill="#f0c430"/>
<rect x="190.2" y="143.79" width="43.4" height="1.50" fill="#501008"/>
<rect x="190.2" y="145.29" width="43.4" height="3.00" fill="#d02818"/>
<rect x="190.2" y="148.29" width="43.4" height="1.50" fill="#232c08"/>
<rect x="190.2" y="149.79" width="43.4" height="1.20" fill="#f0c430"/>
<rect x="190.2" y="150.99" width="43.4" height="1.30" fill="#232c08"/>
<rect x="190.2" y="152.29" width="43.4" height="1.50" fill="#f0c430"/>
<rect x="190.2" y="153.79" width="43.4" height="2.20" fill="#7a2a10"/>
<rect x="190.2" y="155.99" width="43.4" height="1.30" fill="#a09028"/>
<rect x="190.2" y="157.29" width="43.4" height="1.50" fill="#f0c430"/>
<rect x="190.2" y="158.79" width="43.4" height="3.00" fill="#501008"/>
<rect x="190.2" y="161.79" width="43.4" height="1.80" fill="#232c08"/>
<rect x="190.2" y="163.59" width="43.4" height="2.20" fill="#b87020"/>
<rect x="190.2" y="165.79" width="43.4" height="1.20" fill="#f0c430"/>
<rect x="190.2" y="166.99" width="43.4" height="1.80" fill="#8a9020"/>
<rect x="190.2" y="168.79" width="43.4" height="1.20" fill="#d0ee14"/>
<rect x="190.2" y="169.99" width="43.4" height="1.30" fill="#232c08"/>
<rect x="190.2" y="171.29" width="43.4" height="3.00" fill="#f0c430"/>
<rect x="190.2" y="174.29" width="43.4" height="2.00" fill="#f4f414"/>
<rect x="190.2" y="176.29" width="43.4" height="1.70" fill="#141200"/>
<rect x="190.2" y="177.99" width="43.4" height="1.80" fill="#d0ee14"/>
<rect x="190.2" y="179.79" width="43.4" height="1.20" fill="#4a6010"/>
<rect x="190.2" y="180.99" width="43.4" height="1.80" fill="#a09028"/>
<rect x="190.2" y="182.79" width="43.4" height="1.50" fill="#501008"/>
<rect x="190.2" y="184.29" width="43.4" height="0.50" fill="#f4f414"/>
<rect x="190.2" y="184.79" width="43.4" height="1.20" fill="#f0c430"/>
<rect x="190.2" y="185.99" width="43.4" height="0.80" fill="#232c08"/>
<rect x="190.2" y="186.79" width="43.4" height="4.50" fill="#f4f414"/>
<rect x="190.2" y="191.29" width="43.4" height="2.00" fill="#141200"/>
<rect x="190.2" y="193.29" width="43.4" height="2.00" fill="#a09028"/>
<rect x="190.2" y="195.29" width="43.4" height="1.50" fill="#f09428"/>
<rect x="190.2" y="196.79" width="43.4" height="1.00" fill="#232c08"/>
<rect x="190.2" y="197.79" width="43.4" height="5.50" fill="#f4f414"/>
<rect x="190.2" y="203.29" width="43.4" height="2.00" fill="#7a2a10"/>
<rect x="190.2" y="205.29" width="43.4" height="3.50" fill="#d0ee14"/>
<rect x="190.2" y="208.79" width="43.4" height="1.50" fill="#141200"/>
<rect x="190.2" y="210.29" width="43.4" height="3.30" fill="#f4f414"/>
<rect x="190.2" y="213.59" width="43.4" height="1.70" fill="#232c08"/>
<rect x="190.2" y="215.29" width="43.4" height="1.50" fill="#b0c830"/>
<rect x="190.2" y="216.79" width="43.4" height="2.50" fill="#141200"/>
<rect x="190.2" y="219.29" width="43.4" height="2.00" fill="#d0ee14"/>
<rect x="190.2" y="221.29" width="43.4" height="2.00" fill="#141200"/>
<rect x="190.2" y="223.29" width="43.4" height="1.00" fill="#d0ee14"/>
<rect x="190.2" y="224.29" width="43.4" height="6.00" fill="#4a6010"/>
<rect x="190.2" y="230.29" width="43.4" height="1.50" fill="#b0c830"/>
<rect x="190.2" y="231.79" width="43.4" height="1.50" fill="#a09028"/>
<rect x="190.2" y="233.29" width="43.4" height="2.00" fill="#232c08"/>
<rect x="190.2" y="235.29" width="43.4" height="1.50" fill="#8a9020"/>
<rect x="190.2" y="236.79" width="43.4" height="1.20" fill="#232c08"/>
<rect x="190.2" y="237.99" width="43.4" height="1.60" fill="#b0c830"/>
<rect x="190.2" y="239.59" width="43.4" height="1.20" fill="#f4f414"/>
<rect x="190.2" y="240.79" width="43.4" height="1.80" fill="#232c08"/>
<rect x="190.2" y="242.59" width="43.4" height="1.70" fill="#d0ee14"/>
<rect x="190.2" y="244.29" width="43.4" height="1.50" fill="#232c08"/>
<rect x="190.2" y="245.79" width="43.4" height="2.50" fill="#f4f414"/>
<rect x="190.2" y="248.29" width="43.4" height="1.70" fill="#141200"/>
<rect x="190.2" y="249.99" width="43.4" height="1.80" fill="#d0ee14"/>
<rect x="190.2" y="251.79" width="43.4" height="2.00" fill="#8a9020"/>
<rect x="190.2" y="253.79" width="43.4" height="1.50" fill="#b87020"/>
<rect x="190.2" y="255.29" width="43.4" height="1.30" fill="#232c08"/>
<rect x="190.2" y="256.59" width="43.4" height="1.40" fill="#f09428"/>
<rect x="190.2" y="257.99" width="43.4" height="1.30" fill="#f0c430"/>
<rect x="190.2" y="259.29" width="43.4" height="1.30" fill="#232c08"/>
<rect x="190.2" y="260.59" width="43.4" height="1.70" fill="#d0ee14"/>
<rect x="190.2" y="262.29" width="43.4" height="1.30" fill="#b0c830"/>
<rect x="190.2" y="263.59" width="43.4" height="1.20" fill="#232c08"/>
<rect x="190.2" y="264.79" width="43.4" height="1.20" fill="#8a9020"/>
<rect x="190.2" y="265.99" width="43.4" height="1.80" fill="#141200"/>
<rect x="190.2" y="267.79" width="43.4" height="1.50" fill="#b0c830"/>
<rect x="190.2" y="269.29" width="43.4" height="2.00" fill="#d0ee14"/>
<rect x="190.2" y="271.29" width="43.4" height="2.70" fill="#141200"/>
<rect x="190.2" y="273.99" width="43.4" height="2.30" fill="#6a8c1c"/>
<rect x="190.2" y="276.29" width="43.4" height="1.70" fill="#141200"/>
<rect x="190.2" y="277.99" width="43.4" height="4.80" fill="#f4f414"/>
<rect x="190.2" y="282.79" width="43.4" height="1.50" fill="#232c08"/>
<rect x="190.2" y="284.29" width="43.4" height="2.00" fill="#a09028"/>
<rect x="190.2" y="286.29" width="43.4" height="1.50" fill="#f4f414"/>
<rect x="190.2" y="287.79" width="43.4" height="2.50" fill="#f09428"/>
<rect x="190.2" y="290.29" width="43.4" height="2.50" fill="#f0c430"/>
<rect x="190.2" y="292.79" width="43.4" height="1.50" fill="#a09028"/>
<rect x="190.2" y="294.29" width="43.4" height="1.50" fill="#232c08"/>
<rect x="190.2" y="295.79" width="43.4" height="1.50" fill="#8a9020"/>
<rect x="190.2" y="297.29" width="43.4" height="1.50" fill="#232c08"/>
<rect x="190.2" y="298.79" width="43.4" height="3.80" fill="#f4f414"/>
<rect x="190.2" y="302.59" width="43.4" height="1.70" fill="#232c08"/>
<rect x="190.2" y="304.29" width="43.4" height="2.00" fill="#b0c830"/>
<rect x="190.2" y="306.29" width="43.4" height="3.00" fill="#f4f414"/>
<rect x="190.2" y="309.29" width="43.4" height="1.70" fill="#141200"/>
<rect x="190.2" y="310.99" width="43.4" height="1.30" fill="#8a9020"/>
<rect x="190.2" y="312.29" width="43.4" height="6.50" fill="#f4f414"/>
<rect x="190.2" y="318.79" width="43.4" height="1.00" fill="#f4f414"/>
<rect x="190.2" y="319.79" width="43.4" height="1.50" fill="#8a9020"/>
<rect x="190.2" y="321.29" width="43.4" height="1.30" fill="#e8e080"/>
<rect x="190.2" y="322.59" width="43.4" height="1.20" fill="#141200"/>
<rect x="190.2" y="323.79" width="43.4" height="8.00" fill="#d0ee14"/>
<rect x="190.2" y="331.79" width="43.4" height="3.00" fill="#b0c830"/>
<rect x="190.2" y="334.79" width="43.4" height="1.00" fill="#8a9020"/>
<rect x="190.2" y="335.79" width="43.4" height="1.20" fill="#141200"/>
<rect x="190.2" y="336.99" width="43.4" height="4.80" fill="#f0c430"/>
<rect x="190.2" y="341.79" width="43.4" height="1.00" fill="#f09428"/>
<rect x="190.2" y="342.79" width="43.4" height="2.50" fill="#f4f414"/>
<rect x="190.2" y="345.29" width="43.4" height="1.50" fill="#4a6010"/>
<rect x="190.2" y="346.79" width="43.4" height="1.50" fill="#6a8c1c"/>
<rect x="190.2" y="348.29" width="43.4" height="1.50" fill="#f4f414"/>
<rect x="190.2" y="349.79" width="43.4" height="3.00" fill="#d0ee14"/>
<rect x="190.2" y="352.79" width="43.4" height="2.50" fill="#b0c830"/>
<rect x="190.2" y="355.29" width="43.4" height="1.30" fill="#141200"/>
<rect x="190.2" y="356.59" width="43.4" height="1.20" fill="#b0c830"/>
<rect x="190.2" y="357.79" width="43.4" height="1.80" fill="#4a6010"/>
<rect x="190.2" y="359.59" width="43.4" height="3.20" fill="#d0ee14"/>
<rect x="190.2" y="362.79" width="43.4" height="1.50" fill="#8a9020"/>
<rect x="190.2" y="364.29" width="43.4" height="1.50" fill="#d0ee14"/>
<rect x="190.2" y="365.79" width="43.4" height="1.00" fill="#232c08"/>
<rect x="190.2" y="366.79" width="43.4" height="1.50" fill="#b0c830"/>
<rect x="190.2" y="368.29" width="43.4" height="1.00" fill="#232c08"/>
<rect x="190.2" y="369.29" width="43.4" height="2.00" fill="#f0c430"/>
<rect x="190.2" y="371.29" width="43.4" height="2.00" fill="#f4f414"/>
<rect x="190.2" y="373.29" width="43.4" height="1.50" fill="#a09028"/>
<rect x="190.2" y="374.79" width="43.4" height="1.50" fill="#f09428"/>
<rect x="190.2" y="376.29" width="43.4" height="1.50" fill="#f0c430"/>
<rect x="190.2" y="377.79" width="43.4" height="2.00" fill="#141200"/>
<rect x="190.2" y="379.79" width="43.4" height="2.00" fill="#d0ee14"/>
<rect x="190.2" y="381.79" width="43.4" height="1.50" fill="#232c08"/>
<rect x="190.2" y="383.29" width="43.4" height="1.50" fill="#b0c830"/>
<rect x="190.2" y="384.79" width="43.4" height="1.00" fill="#232c08"/>
<rect x="190.2" y="385.79" width="43.4" height="1.00" fill="#d0ee14"/>
<rect x="190.2" y="386.79" width="43.4" height="3.50" fill="#141200"/>
<rect x="190.2" y="390.29" width="43.4" height="1.50" fill="#6a8c1c"/>
<rect x="190.2" y="391.79" width="43.4" height="6.50" fill="#d0ee14"/>
<rect x="190.2" y="398.29" width="43.4" height="2.00" fill="#f0c430"/>
<rect x="190.2" y="400.29" width="43.4" height="1.50" fill="#232c08"/>
<rect x="190.2" y="401.79" width="43.4" height="1.50" fill="#f4f414"/>
<rect x="190.2" y="403.29" width="43.4" height="1.50" fill="#141200"/>
<rect x="190.2" y="404.79" width="43.4" height="2.50" fill="#f0c430"/>
<rect x="190.2" y="407.29" width="43.4" height="2.00" fill="#f4f414"/>
<rect x="190.2" y="409.29" width="43.4" height="2.50" fill="#6a8c1c"/>
<rect x="190.2" y="411.79" width="43.4" height="1.50" fill="#d0ee14"/>
<rect x="190.2" y="413.29" width="43.4" height="1.50" fill="#232c08"/>
<rect x="190.2" y="414.79" width="43.4" height="2.00" fill="#4a6010"/>
<rect x="190.2" y="416.79" width="43.4" height="1.50" fill="#d0ee14"/>
<rect x="190.2" y="418.29" width="43.4" height="1.50" fill="#6a8c1c"/>
<rect x="190.2" y="419.79" width="43.4" height="1.50" fill="#f4f414"/>
<rect x="190.2" y="421.29" width="43.4" height="2.00" fill="#7a2a10"/>
<rect x="190.2" y="423.29" width="43.4" height="2.00" fill="#f0c430"/>
<rect x="190.2" y="425.29" width="43.4" height="2.50" fill="#f4f414"/>
<rect x="190.2" y="427.79" width="43.4" height="2.00" fill="#232c08"/>
<rect x="190.2" y="429.79" width="43.4" height="2.00" fill="#b87020"/>
<rect x="190.2" y="431.79" width="43.4" height="1.00" fill="#f09428"/>
<rect x="190.2" y="432.79" width="43.4" height="1.00" fill="#b87020"/>
<rect x="190.2" y="433.79" width="43.4" height="1.50" fill="#232c08"/>
<rect x="190.2" y="435.29" width="43.4" height="2.50" fill="#8a9020"/>
<rect x="190.2" y="437.79" width="43.4" height="1.50" fill="#f4f414"/>
<rect x="190.2" y="439.29" width="43.4" height="0.50" fill="#a09028"/>
<rect x="190.2" y="439.79" width="43.4" height="1.50" fill="#a09028"/>
<rect x="190.2" y="441.29" width="43.4" height="2.00" fill="#8a9020"/>
<rect x="190.2" y="443.29" width="43.4" height="2.50" fill="#f0c430"/>
<rect x="190.2" y="445.79" width="43.4" height="2.50" fill="#141200"/>
<rect x="190.2" y="448.29" width="43.4" height="2.00" fill="#d0ee14"/>
<rect x="190.2" y="450.29" width="43.4" height="1.50" fill="#8a9020"/>
<rect x="190.2" y="451.79" width="43.4" height="2.00" fill="#4a6010"/>
<rect x="190.2" y="453.79" width="43.4" height="1.00" fill="#232c08"/>
<rect x="190.2" y="454.79" width="43.4" height="2.80" fill="#b87020"/>
<rect x="190.2" y="457.59" width="43.4" height="1.20" fill="#f4f414"/>
<rect x="190.2" y="458.79" width="43.4" height="2.00" fill="#6a8c1c"/>
<rect x="190.2" y="460.79" width="43.4" height="1.50" fill="#d0ee14"/>
<rect x="190.2" y="462.29" width="43.4" height="3.00" fill="#b0c830"/>
<rect x="190.2" y="465.29" width="43.4" height="1.50" fill="#4a6010"/>
<rect x="190.2" y="466.79" width="43.4" height="1.50" fill="#8a9020"/>
<rect x="190.2" y="468.29" width="43.4" height="2.50" fill="#2a3a40"/>
<rect x="190.2" y="470.79" width="43.4" height="1.50" fill="#4a6010"/>
<rect x="190.2" y="472.29" width="43.4" height="1.00" fill="#b0c830"/>
<rect x="190.2" y="473.29" width="43.4" height="1.30" fill="#232c08"/>
<rect x="190.2" y="474.59" width="43.4" height="1.70" fill="#e8e080"/>
<rect x="190.2" y="476.29" width="43.4" height="2.30" fill="#141200"/>
<rect x="190.2" y="478.59" width="43.4" height="1.70" fill="#b0c830"/>
<rect x="190.2" y="480.29" width="43.4" height="2.30" fill="#141200"/>
<rect x="190.2" y="482.59" width="43.4" height="1.70" fill="#b0c830"/>
<rect x="190.2" y="484.29" width="43.4" height="2.50" fill="#141200"/>
<rect x="190.2" y="486.79" width="43.4" height="1.50" fill="#b0c830"/>
<rect x="190.2" y="488.29" width="43.4" height="1.56" fill="#141200"/>
<rect x="240.2" y="59.2" width="43.5" height="430.65000000000003" fill="#a0a020"/>
<rect x="240.2" y="59.20" width="43.5" height="4.61" fill="#d0ee14"/>
<rect x="240.2" y="63.81" width="43.5" height="2.00" fill="#141200"/>
<rect x="240.2" y="65.81" width="43.5" height="2.00" fill="#d0ee14"/>
<rect x="240.2" y="67.81" width="43.5" height="1.20" fill="#141200"/>
<rect x="240.2" y="69.01" width="43.5" height="3.50" fill="#a09028"/>
<rect x="240.2" y="72.51" width="43.5" height="1.50" fill="#a09028"/>
<rect x="240.2" y="74.01" width="43.5" height="3.00" fill="#f0c430"/>
<rect x="240.2" y="77.01" width="43.5" height="1.20" fill="#2e2208"/>
<rect x="240.2" y="78.21" width="43.5" height="1.80" fill="#7a2a10"/>
<rect x="240.2" y="80.01" width="43.5" height="1.20" fill="#2e2208"/>
<rect x="240.2" y="81.21" width="43.5" height="2.30" fill="#f4f414"/>
<rect x="240.2" y="83.51" width="43.5" height="1.50" fill="#141200"/>
<rect x="240.2" y="85.01" width="43.5" height="1.20" fill="#e8e080"/>
<rect x="240.2" y="86.21" width="43.5" height="1.80" fill="#4a6010"/>
<rect x="240.2" y="88.01" width="43.5" height="3.50" fill="#6a8c1c"/>
<rect x="240.2" y="91.51" width="43.5" height="0.70" fill="#2e2208"/>
<rect x="240.2" y="92.21" width="43.5" height="1.80" fill="#141200"/>
<rect x="240.2" y="94.01" width="43.5" height="2.00" fill="#f4f414"/>
<rect x="240.2" y="96.01" width="43.5" height="1.50" fill="#141200"/>
<rect x="240.2" y="97.51" width="43.5" height="3.70" fill="#f4f414"/>
<rect x="240.2" y="101.21" width="43.5" height="1.60" fill="#2e2208"/>
<rect x="240.2" y="102.81" width="43.5" height="1.20" fill="#f4f414"/>
<rect x="240.2" y="104.01" width="43.5" height="5.00" fill="#f0c430"/>
<rect x="240.2" y="109.01" width="43.5" height="1.20" fill="#2e2208"/>
<rect x="240.2" y="110.21" width="43.5" height="2.80" fill="#a09028"/>
<rect x="240.2" y="113.01" width="43.5" height="1.50" fill="#7a2a10"/>
<rect x="240.2" y="114.51" width="43.5" height="1.50" fill="#2e2208"/>
<rect x="240.2" y="116.01" width="43.5" height="1.50" fill="#a09028"/>
<rect x="240.2" y="117.51" width="43.5" height="2.00" fill="#b87020"/>
<rect x="240.2" y="119.51" width="43.5" height="0.50" fill="#2e2208"/>
<rect x="240.2" y="120.01" width="43.5" height="1.00" fill="#7e8e1c"/>
<rect x="240.2" y="121.01" width="43.5" height="1.50" fill="#2e2208"/>
<rect x="240.2" y="122.51" width="43.5" height="2.00" fill="#d0ee14"/>
<rect x="240.2" y="124.51" width="43.5" height="1.30" fill="#2e2208"/>
<rect x="240.2" y="125.81" width="43.5" height="1.70" fill="#a09028"/>
<rect x="240.2" y="127.51" width="43.5" height="3.30" fill="#4a6010"/>
<rect x="240.2" y="130.81" width="43.5" height="2.70" fill="#b0c830"/>
<rect x="240.2" y="133.51" width="43.5" height="1.50" fill="#2e2208"/>
<rect x="240.2" y="135.01" width="43.5" height="1.50" fill="#f4f414"/>
<rect x="240.2" y="136.51" width="43.5" height="1.00" fill="#2e2208"/>
<rect x="240.2" y="137.51" width="43.5" height="3.00" fill="#a09028"/>
<rect x="240.2" y="140.51" width="43.5" height="1.00" fill="#2e2208"/>
<rect x="240.2" y="141.51" width="43.5" height="1.30" fill="#b87020"/>
<rect x="240.2" y="142.81" width="43.5" height="3.40" fill="#501008"/>
<rect x="240.2" y="146.21" width="43.5" height="2.30" fill="#d02818"/>
<rect x="240.2" y="148.51" width="43.5" height="1.00" fill="#2e2208"/>
<rect x="240.2" y="149.51" width="43.5" height="1.70" fill="#f09428"/>
<rect x="240.2" y="151.21" width="43.5" height="1.30" fill="#501008"/>
<rect x="240.2" y="152.51" width="43.5" height="1.00" fill="#b87020"/>
<rect x="240.2" y="153.51" width="43.5" height="3.50" fill="#501008"/>
<rect x="240.2" y="157.01" width="43.5" height="1.00" fill="#2e2208"/>
<rect x="240.2" y="158.01" width="43.5" height="1.20" fill="#f0c430"/>
<rect x="240.2" y="159.21" width="43.5" height="1.30" fill="#501008"/>
<rect x="240.2" y="160.51" width="43.5" height="2.00" fill="#e06830"/>
<rect x="240.2" y="162.51" width="43.5" height="1.50" fill="#2e2208"/>
<rect x="240.2" y="164.01" width="43.5" height="2.00" fill="#4a6010"/>
<rect x="240.2" y="166.01" width="43.5" height="1.50" fill="#2e2208"/>
<rect x="240.2" y="167.51" width="43.5" height="1.50" fill="#f0c430"/>
<rect x="240.2" y="169.01" width="43.5" height="1.50" fill="#7a2a10"/>
<rect x="240.2" y="170.51" width="43.5" height="1.50" fill="#a09028"/>
<rect x="240.2" y="172.01" width="43.5" height="2.00" fill="#f09428"/>
<rect x="240.2" y="174.01" width="43.5" height="2.00" fill="#d0ee14"/>
<rect x="240.2" y="176.01" width="43.5" height="1.50" fill="#7e8e1c"/>
<rect x="240.2" y="177.51" width="43.5" height="3.50" fill="#d0ee14"/>
<rect x="240.2" y="181.01" width="43.5" height="1.50" fill="#4a6010"/>
<rect x="240.2" y="182.51" width="43.5" height="2.30" fill="#141200"/>
<rect x="240.2" y="184.81" width="43.5" height="0.20" fill="#d0ee14"/>
<rect x="240.2" y="185.01" width="43.5" height="2.00" fill="#b0c830"/>
<rect x="240.2" y="187.01" width="43.5" height="4.50" fill="#d0ee14"/>
<rect x="240.2" y="191.51" width="43.5" height="1.50" fill="#141200"/>
<rect x="240.2" y="193.01" width="43.5" height="2.80" fill="#4a6010"/>
<rect x="240.2" y="195.81" width="43.5" height="1.70" fill="#f0c430"/>
<rect x="240.2" y="197.51" width="43.5" height="2.00" fill="#7a2a10"/>
<rect x="240.2" y="199.51" width="43.5" height="4.50" fill="#f0c430"/>
<rect x="240.2" y="204.01" width="43.5" height="1.50" fill="#141200"/>
<rect x="240.2" y="205.51" width="43.5" height="3.00" fill="#f4f414"/>
<rect x="240.2" y="208.51" width="43.5" height="1.50" fill="#141200"/>
<rect x="240.2" y="210.01" width="43.5" height="3.50" fill="#f4f414"/>
<rect x="240.2" y="213.51" width="43.5" height="1.30" fill="#141200"/>
<rect x="240.2" y="214.81" width="43.5" height="1.40" fill="#b0c830"/>
<rect x="240.2" y="216.21" width="43.5" height="3.30" fill="#4a6010"/>
<rect x="240.2" y="219.51" width="43.5" height="2.00" fill="#d0ee14"/>
<rect x="240.2" y="221.51" width="43.5" height="1.50" fill="#141200"/>
<rect x="240.2" y="223.01" width="43.5" height="2.00" fill="#b0c830"/>
<rect x="240.2" y="225.01" width="43.5" height="1.50" fill="#7e8e1c"/>
<rect x="240.2" y="226.51" width="43.5" height="2.50" fill="#4a6010"/>
<rect x="240.2" y="229.01" width="43.5" height="1.80" fill="#141200"/>
<rect x="240.2" y="230.81" width="43.5" height="3.20" fill="#f4f414"/>
<rect x="240.2" y="234.01" width="43.5" height="1.00" fill="#2e2208"/>
<rect x="240.2" y="235.01" width="43.5" height="4.50" fill="#7e8e1c"/>
<rect x="240.2" y="239.51" width="43.5" height="1.50" fill="#d0ee14"/>
<rect x="240.2" y="241.01" width="43.5" height="1.50" fill="#2e2208"/>
<rect x="240.2" y="242.51" width="43.5" height="1.50" fill="#a09028"/>
<rect x="240.2" y="244.01" width="43.5" height="1.50" fill="#501008"/>
<rect x="240.2" y="245.51" width="43.5" height="1.50" fill="#f09428"/>
<rect x="240.2" y="247.01" width="43.5" height="1.50" fill="#f0c430"/>
<rect x="240.2" y="248.51" width="43.5" height="1.30" fill="#2e2208"/>
<rect x="240.2" y="249.81" width="43.5" height="2.20" fill="#e06830"/>
<rect x="240.2" y="252.01" width="43.5" height="1.50" fill="#e06830"/>
<rect x="240.2" y="253.51" width="43.5" height="1.50" fill="#501008"/>
<rect x="240.2" y="255.01" width="43.5" height="1.50" fill="#a09028"/>
<rect x="240.2" y="256.51" width="43.5" height="3.30" fill="#e06830"/>
<rect x="240.2" y="259.81" width="43.5" height="1.20" fill="#2e2208"/>
<rect x="240.2" y="261.01" width="43.5" height="1.80" fill="#e8e080"/>
<rect x="240.2" y="262.81" width="43.5" height="1.20" fill="#2e2208"/>
<rect x="240.2" y="264.01" width="43.5" height="2.00" fill="#a09028"/>
<rect x="240.2" y="266.01" width="43.5" height="2.00" fill="#141200"/>
<rect x="240.2" y="268.01" width="43.5" height="1.50" fill="#a09028"/>
<rect x="240.2" y="269.51" width="43.5" height="2.00" fill="#f0c430"/>
<rect x="240.2" y="271.51" width="43.5" height="3.00" fill="#501008"/>
<rect x="240.2" y="274.51" width="43.5" height="1.50" fill="#b87020"/>
<rect x="240.2" y="276.01" width="43.5" height="1.80" fill="#501008"/>
<rect x="240.2" y="277.81" width="43.5" height="4.20" fill="#f09428"/>
<rect x="240.2" y="282.01" width="43.5" height="1.00" fill="#2e2208"/>
<rect x="240.2" y="283.01" width="43.5" height="3.00" fill="#7a2a10"/>
<rect x="240.2" y="286.01" width="43.5" height="1.00" fill="#b0c830"/>
<rect x="240.2" y="287.01" width="43.5" height="6.00" fill="#f4f414"/>
<rect x="240.2" y="293.01" width="43.5" height="1.50" fill="#7e8e1c"/>
<rect x="240.2" y="294.51" width="43.5" height="2.00" fill="#4a6010"/>
<rect x="240.2" y="296.51" width="43.5" height="2.00" fill="#b0c830"/>
<rect x="240.2" y="298.51" width="43.5" height="4.00" fill="#d0ee14"/>
<rect x="240.2" y="302.51" width="43.5" height="1.70" fill="#141200"/>
<rect x="240.2" y="304.21" width="43.5" height="2.30" fill="#d0ee14"/>
<rect x="240.2" y="306.51" width="43.5" height="2.50" fill="#f4f414"/>
<rect x="240.2" y="309.01" width="43.5" height="1.80" fill="#4a6010"/>
<rect x="240.2" y="310.81" width="43.5" height="1.70" fill="#7e8e1c"/>
<rect x="240.2" y="312.51" width="43.5" height="6.50" fill="#f4f414"/>
<rect x="240.2" y="319.01" width="43.5" height="1.50" fill="#f4f414"/>
<rect x="240.2" y="320.51" width="43.5" height="1.00" fill="#7e8e1c"/>
<rect x="240.2" y="321.51" width="43.5" height="1.00" fill="#e8e080"/>
<rect x="240.2" y="322.51" width="43.5" height="1.50" fill="#141200"/>
<rect x="240.2" y="324.01" width="43.5" height="5.00" fill="#f4f414"/>
<rect x="240.2" y="329.01" width="43.5" height="6.50" fill="#d0ee14"/>
<rect x="240.2" y="335.51" width="43.5" height="1.50" fill="#141200"/>
<rect x="240.2" y="337.01" width="43.5" height="7.00" fill="#98d418"/>
<rect x="240.2" y="344.01" width="43.5" height="1.50" fill="#d0ee14"/>
<rect x="240.2" y="345.51" width="43.5" height="1.50" fill="#141200"/>
<rect x="240.2" y="347.01" width="43.5" height="6.50" fill="#d0ee14"/>
<rect x="240.2" y="353.51" width="43.5" height="2.00" fill="#f4f414"/>
<rect x="240.2" y="355.51" width="43.5" height="1.50" fill="#141200"/>
<rect x="240.2" y="357.01" width="43.5" height="2.00" fill="#7a2a10"/>
<rect x="240.2" y="359.01" width="43.5" height="4.00" fill="#f4f414"/>
<rect x="240.2" y="363.01" width="43.5" height="1.00" fill="#2e2208"/>
<rect x="240.2" y="364.01" width="43.5" height="4.00" fill="#d0ee14"/>
<rect x="240.2" y="368.01" width="43.5" height="1.00" fill="#2e2208"/>
<rect x="240.2" y="369.01" width="43.5" height="4.00" fill="#f0c430"/>
<rect x="240.2" y="373.01" width="43.5" height="0.80" fill="#2e2208"/>
<rect x="240.2" y="373.81" width="43.5" height="2.70" fill="#f0c430"/>
<rect x="240.2" y="376.51" width="43.5" height="1.50" fill="#7e8e1c"/>
<rect x="240.2" y="378.01" width="43.5" height="2.00" fill="#4a6010"/>
<rect x="240.2" y="380.01" width="43.5" height="1.50" fill="#d0ee14"/>
<rect x="240.2" y="381.51" width="43.5" height="1.50" fill="#2e2208"/>
<rect x="240.2" y="383.01" width="43.5" height="1.50" fill="#7e8e1c"/>
<rect x="240.2" y="384.51" width="43.5" height="1.50" fill="#2e2208"/>
<rect x="240.2" y="386.01" width="43.5" height="1.00" fill="#b0c830"/>
<rect x="240.2" y="387.01" width="43.5" height="2.80" fill="#141200"/>
<rect x="240.2" y="389.81" width="43.5" height="4.20" fill="#f4f414"/>
<rect x="240.2" y="394.01" width="43.5" height="3.80" fill="#f0c430"/>
<rect x="240.2" y="397.81" width="43.5" height="1.20" fill="#2e2208"/>
<rect x="240.2" y="399.01" width="43.5" height="1.50" fill="#b0c830"/>
<rect x="240.2" y="400.51" width="43.5" height="2.00" fill="#7e8e1c"/>
<rect x="240.2" y="402.51" width="43.5" height="2.50" fill="#7a2a10"/>
<rect x="240.2" y="405.01" width="43.5" height="3.50" fill="#d0ee14"/>
<rect x="240.2" y="408.51" width="43.5" height="1.50" fill="#2e2208"/>
<rect x="240.2" y="410.01" width="43.5" height="2.20" fill="#d0ee14"/>
<rect x="240.2" y="412.21" width="43.5" height="1.30" fill="#2e2208"/>
<rect x="240.2" y="413.51" width="43.5" height="4.50" fill="#f4f414"/>
<rect x="240.2" y="418.01" width="43.5" height="1.50" fill="#7e8e1c"/>
<rect x="240.2" y="419.51" width="43.5" height="2.00" fill="#d0ee14"/>
<rect x="240.2" y="421.51" width="43.5" height="1.70" fill="#2e2208"/>
<rect x="240.2" y="423.21" width="43.5" height="2.00" fill="#7e8e1c"/>
<rect x="240.2" y="425.21" width="43.5" height="1.30" fill="#d0ee14"/>
<rect x="240.2" y="426.51" width="43.5" height="1.50" fill="#4a6010"/>
<rect x="240.2" y="428.01" width="43.5" height="1.50" fill="#141200"/>
<rect x="240.2" y="429.51" width="43.5" height="4.00" fill="#d0ee14"/>
<rect x="240.2" y="433.51" width="43.5" height="1.50" fill="#f0c430"/>
<rect x="240.2" y="435.01" width="43.5" height="2.80" fill="#501008"/>
<rect x="240.2" y="437.81" width="43.5" height="1.20" fill="#b87020"/>
<rect x="240.2" y="439.01" width="43.5" height="1.00" fill="#f09428"/>
<rect x="240.2" y="440.01" width="43.5" height="1.50" fill="#b87020"/>
<rect x="240.2" y="441.51" width="43.5" height="5.00" fill="#f0c430"/>
<rect x="240.2" y="446.51" width="43.5" height="2.00" fill="#141200"/>
<rect x="240.2" y="448.51" width="43.5" height="2.30" fill="#d0ee14"/>
<rect x="240.2" y="450.81" width="43.5" height="1.20" fill="#4a6010"/>
<rect x="240.2" y="452.01" width="43.5" height="2.00" fill="#7e8e1c"/>
<rect x="240.2" y="454.01" width="43.5" height="1.50" fill="#141200"/>
<rect x="240.2" y="455.51" width="43.5" height="4.50" fill="#b0c830"/>
<rect x="240.2" y="460.01" width="43.5" height="1.20" fill="#2e2208"/>
<rect x="240.2" y="461.21" width="43.5" height="2.80" fill="#d0ee14"/>
<rect x="240.2" y="464.01" width="43.5" height="1.50" fill="#7e8e1c"/>
<rect x="240.2" y="465.51" width="43.5" height="1.50" fill="#4a6010"/>
<rect x="240.2" y="467.01" width="43.5" height="1.50" fill="#7e8e1c"/>
<rect x="240.2" y="468.51" width="43.5" height="1.50" fill="#1e2656"/>
<rect x="240.2" y="470.01" width="43.5" height="1.80" fill="#4a6010"/>
<rect x="240.2" y="471.81" width="43.5" height="1.20" fill="#7e8e1c"/>
<rect x="240.2" y="473.01" width="43.5" height="1.50" fill="#2e2208"/>
<rect x="240.2" y="474.51" width="43.5" height="1.50" fill="#b0c830"/>
<rect x="240.2" y="476.01" width="43.5" height="2.50" fill="#141200"/>
<rect x="240.2" y="478.51" width="43.5" height="1.50" fill="#a0a880"/>
<rect x="240.2" y="480.01" width="43.5" height="2.00" fill="#141200"/>
<rect x="240.2" y="482.01" width="43.5" height="2.00" fill="#a0a880"/>
<rect x="240.2" y="484.01" width="43.5" height="1.80" fill="#141200"/>
<rect x="240.2" y="485.81" width="43.5" height="1.70" fill="#1e2656"/>
<rect x="240.2" y="487.51" width="43.5" height="1.50" fill="#a0a880"/>
<rect x="240.2" y="489.01" width="43.5" height="0.84" fill="#141200"/>
<rect x="306.8" y="58.5" width="44.0" height="431.4" fill="#b0c020"/>
<rect x="306.8" y="58.50" width="44.0" height="1.30" fill="#f4f414"/>
<rect x="306.8" y="59.80" width="44.0" height="1.70" fill="#141200"/>
<rect x="306.8" y="61.50" width="44.0" height="2.60" fill="#d0ee14"/>
<rect x="306.8" y="64.10" width="44.0" height="2.00" fill="#141200"/>
<rect x="306.8" y="66.10" width="44.0" height="2.00" fill="#d0ee14"/>
<rect x="306.8" y="68.10" width="44.0" height="1.20" fill="#232c08"/>
<rect x="306.8" y="69.30" width="44.0" height="2.00" fill="#6c8418"/>
<rect x="306.8" y="71.30" width="44.0" height="3.50" fill="#4a6010"/>
<rect x="306.8" y="74.80" width="44.0" height="1.50" fill="#232c08"/>
<rect x="306.8" y="76.30" width="44.0" height="1.50" fill="#d0ee14"/>
<rect x="306.8" y="77.80" width="44.0" height="1.50" fill="#6c8418"/>
<rect x="306.8" y="79.30" width="44.0" height="2.20" fill="#6a8c1c"/>
<rect x="306.8" y="81.50" width="44.0" height="1.30" fill="#232c08"/>
<rect x="306.8" y="82.80" width="44.0" height="1.00" fill="#f4f414"/>
<rect x="306.8" y="83.80" width="44.0" height="1.30" fill="#7a2a10"/>
<rect x="306.8" y="85.10" width="44.0" height="2.70" fill="#6c8418"/>
<rect x="306.8" y="87.80" width="44.0" height="7.00" fill="#141200"/>
<rect x="306.8" y="94.80" width="44.0" height="1.50" fill="#6c8418"/>
<rect x="306.8" y="96.30" width="44.0" height="1.50" fill="#232c08"/>
<rect x="306.8" y="97.80" width="44.0" height="3.50" fill="#f4f414"/>
<rect x="306.8" y="101.30" width="44.0" height="1.80" fill="#6c8418"/>
<rect x="306.8" y="103.10" width="44.0" height="1.40" fill="#232c08"/>
<rect x="306.8" y="104.50" width="44.0" height="4.30" fill="#767a24"/>
<rect x="306.8" y="108.80" width="44.0" height="1.50" fill="#232c08"/>
<rect x="306.8" y="110.30" width="44.0" height="3.00" fill="#98d418"/>
<rect x="306.8" y="113.30" width="44.0" height="2.00" fill="#6c8418"/>
<rect x="306.8" y="115.30" width="44.0" height="1.50" fill="#d0ee14"/>
<rect x="306.8" y="116.80" width="44.0" height="1.50" fill="#232c08"/>
<rect x="306.8" y="118.30" width="44.0" height="2.00" fill="#6c8418"/>
<rect x="306.8" y="120.30" width="44.0" height="2.50" fill="#767a24"/>
<rect x="306.8" y="122.80" width="44.0" height="2.00" fill="#d0ee14"/>
<rect x="306.8" y="124.80" width="44.0" height="1.50" fill="#232c08"/>
<rect x="306.8" y="126.30" width="44.0" height="1.20" fill="#6c8418"/>
<rect x="306.8" y="127.50" width="44.0" height="1.30" fill="#141200"/>
<rect x="306.8" y="128.80" width="44.0" height="2.50" fill="#4a6010"/>
<rect x="306.8" y="131.30" width="44.0" height="1.00" fill="#141200"/>
<rect x="306.8" y="132.30" width="44.0" height="2.50" fill="#d0ee14"/>
<rect x="306.8" y="134.80" width="44.0" height="1.50" fill="#232c08"/>
<rect x="306.8" y="136.30" width="44.0" height="4.00" fill="#767a24"/>
<rect x="306.8" y="140.30" width="44.0" height="1.50" fill="#232c08"/>
<rect x="306.8" y="141.80" width="44.0" height="2.50" fill="#d0ee14"/>
<rect x="306.8" y="144.30" width="44.0" height="1.50" fill="#232c08"/>
<rect x="306.8" y="145.80" width="44.0" height="3.50" fill="#6c8418"/>
<rect x="306.8" y="149.30" width="44.0" height="1.00" fill="#f4f414"/>
<rect x="306.8" y="150.30" width="44.0" height="1.50" fill="#141200"/>
<rect x="306.8" y="151.80" width="44.0" height="2.00" fill="#d0ee14"/>
<rect x="306.8" y="153.80" width="44.0" height="2.50" fill="#141200"/>
<rect x="306.8" y="156.30" width="44.0" height="3.50" fill="#d0ee14"/>
<rect x="306.8" y="159.80" width="44.0" height="1.50" fill="#141200"/>
<rect x="306.8" y="161.30" width="44.0" height="1.50" fill="#6c8418"/>
<rect x="306.8" y="162.80" width="44.0" height="4.00" fill="#141200"/>
<rect x="306.8" y="166.80" width="44.0" height="1.50" fill="#6c8418"/>
<rect x="306.8" y="168.30" width="44.0" height="2.00" fill="#d0ee14"/>
<rect x="306.8" y="170.30" width="44.0" height="1.50" fill="#6c8418"/>
<rect x="306.8" y="171.80" width="44.0" height="1.30" fill="#232c08"/>
<rect x="306.8" y="173.10" width="44.0" height="1.20" fill="#6c8418"/>
<rect x="306.8" y="174.30" width="44.0" height="1.50" fill="#141200"/>
<rect x="306.8" y="175.80" width="44.0" height="2.30" fill="#6c8418"/>
<rect x="306.8" y="178.10" width="44.0" height="1.70" fill="#d0ee14"/>
<rect x="306.8" y="179.80" width="44.0" height="3.00" fill="#f4f414"/>
<rect x="306.8" y="182.80" width="44.0" height="2.00" fill="#141200"/>
<rect x="306.8" y="184.80" width="44.0" height="0.50" fill="#f4f414"/>
<rect x="306.8" y="185.30" width="44.0" height="1.50" fill="#b0c830"/>
<rect x="306.8" y="186.80" width="44.0" height="1.50" fill="#232c08"/>
<rect x="306.8" y="188.30" width="44.0" height="1.50" fill="#6c8418"/>
<rect x="306.8" y="189.80" width="44.0" height="1.30" fill="#232c08"/>
<rect x="306.8" y="191.10" width="44.0" height="1.70" fill="#b0c830"/>
<rect x="306.8" y="192.80" width="44.0" height="3.00" fill="#141200"/>
<rect x="306.8" y="195.80" width="44.0" height="2.50" fill="#98d418"/>
<rect x="306.8" y="198.30" width="44.0" height="1.50" fill="#4a6010"/>
<rect x="306.8" y="199.80" width="44.0" height="4.00" fill="#d0ee14"/>
<rect x="306.8" y="203.80" width="44.0" height="2.00" fill="#141200"/>
<rect x="306.8" y="205.80" width="44.0" height="3.00" fill="#d0ee14"/>
<rect x="306.8" y="208.80" width="44.0" height="2.00" fill="#232c08"/>
<rect x="306.8" y="210.80" width="44.0" height="6.00" fill="#f4f414"/>
<rect x="306.8" y="216.80" width="44.0" height="1.50" fill="#232c08"/>
<rect x="306.8" y="218.30" width="44.0" height="1.50" fill="#6c8418"/>
<rect x="306.8" y="219.80" width="44.0" height="2.00" fill="#b0c830"/>
<rect x="306.8" y="221.80" width="44.0" height="1.50" fill="#232c08"/>
<rect x="306.8" y="223.30" width="44.0" height="1.50" fill="#d0ee14"/>
<rect x="306.8" y="224.80" width="44.0" height="1.50" fill="#232c08"/>
<rect x="306.8" y="226.30" width="44.0" height="3.50" fill="#6c8418"/>
<rect x="306.8" y="229.80" width="44.0" height="1.00" fill="#f4f414"/>
<rect x="306.8" y="230.80" width="44.0" height="3.50" fill="#d0ee14"/>
<rect x="306.8" y="234.30" width="44.0" height="1.50" fill="#141200"/>
<rect x="306.8" y="235.80" width="44.0" height="1.50" fill="#6c8418"/>
<rect x="306.8" y="237.30" width="44.0" height="4.00" fill="#4a6010"/>
<rect x="306.8" y="241.30" width="44.0" height="1.50" fill="#6c8418"/>
<rect x="306.8" y="242.80" width="44.0" height="3.00" fill="#141200"/>
<rect x="306.8" y="245.80" width="44.0" height="2.00" fill="#d0ee14"/>
<rect x="306.8" y="247.80" width="44.0" height="2.50" fill="#d0ee14"/>
<rect x="306.8" y="250.30" width="44.0" height="2.00" fill="#6c8418"/>
<rect x="306.8" y="252.30" width="44.0" height="1.20" fill="#232c08"/>
<rect x="306.8" y="253.50" width="44.0" height="1.30" fill="#6c8418"/>
<rect x="306.8" y="254.80" width="44.0" height="3.50" fill="#d0ee14"/>
<rect x="306.8" y="258.30" width="44.0" height="1.20" fill="#6c8418"/>
<rect x="306.8" y="259.50" width="44.0" height="1.80" fill="#232c08"/>
<rect x="306.8" y="261.30" width="44.0" height="1.80" fill="#d0ee14"/>
<rect x="306.8" y="263.10" width="44.0" height="1.70" fill="#232c08"/>
<rect x="306.8" y="264.80" width="44.0" height="1.00" fill="#6c8418"/>
<rect x="306.8" y="265.80" width="44.0" height="1.50" fill="#232c08"/>
<rect x="306.8" y="267.30" width="44.0" height="1.50" fill="#d0ee14"/>
<rect x="306.8" y="268.80" width="44.0" height="3.50" fill="#f4f414"/>
<rect x="306.8" y="272.30" width="44.0" height="2.20" fill="#141200"/>
<rect x="306.8" y="274.50" width="44.0" height="3.30" fill="#f4f414"/>
<rect x="306.8" y="277.80" width="44.0" height="1.50" fill="#232c08"/>
<rect x="306.8" y="279.30" width="44.0" height="5.80" fill="#f4f414"/>
<rect x="306.8" y="285.10" width="44.0" height="1.70" fill="#232c08"/>
<rect x="306.8" y="286.80" width="44.0" height="6.00" fill="#f4f414"/>
<rect x="306.8" y="292.80" width="44.0" height="1.50" fill="#d0ee14"/>
<rect x="306.8" y="294.30" width="44.0" height="2.00" fill="#232c08"/>
<rect x="306.8" y="296.30" width="44.0" height="2.50" fill="#d0ee14"/>
<rect x="306.8" y="298.80" width="44.0" height="4.00" fill="#f4f414"/>
<rect x="306.8" y="302.80" width="44.0" height="1.70" fill="#232c08"/>
<rect x="306.8" y="304.50" width="44.0" height="4.80" fill="#f4f414"/>
<rect x="306.8" y="309.30" width="44.0" height="2.00" fill="#141200"/>
<rect x="306.8" y="311.30" width="44.0" height="1.50" fill="#6c8418"/>
<rect x="306.8" y="312.80" width="44.0" height="6.50" fill="#f4f414"/>
<rect x="306.8" y="319.30" width="44.0" height="0.80" fill="#f4f414"/>
<rect x="306.8" y="320.10" width="44.0" height="1.40" fill="#141200"/>
<rect x="306.8" y="321.50" width="44.0" height="8.80" fill="#f4f414"/>
<rect x="306.8" y="330.30" width="44.0" height="1.80" fill="#4a6010"/>
<rect x="306.8" y="332.10" width="44.0" height="2.20" fill="#f4f414"/>
<rect x="306.8" y="334.30" width="44.0" height="1.50" fill="#b0c830"/>
<rect x="306.8" y="335.80" width="44.0" height="1.50" fill="#232c08"/>
<rect x="306.8" y="337.30" width="44.0" height="5.00" fill="#f4f414"/>
<rect x="306.8" y="342.30" width="44.0" height="1.80" fill="#141200"/>
<rect x="306.8" y="344.10" width="44.0" height="2.00" fill="#f4f414"/>
<rect x="306.8" y="346.10" width="44.0" height="2.00" fill="#141200"/>
<rect x="306.8" y="348.10" width="44.0" height="4.00" fill="#f4f414"/>
<rect x="306.8" y="352.10" width="44.0" height="1.20" fill="#232c08"/>
<rect x="306.8" y="353.30" width="44.0" height="3.50" fill="#f4f414"/>
<rect x="306.8" y="356.80" width="44.0" height="6.00" fill="#d0ee14"/>
<rect x="306.8" y="362.80" width="44.0" height="2.00" fill="#232c08"/>
<rect x="306.8" y="364.80" width="44.0" height="2.70" fill="#d0ee14"/>
<rect x="306.8" y="367.50" width="44.0" height="1.80" fill="#232c08"/>
<rect x="306.8" y="369.30" width="44.0" height="4.50" fill="#f4f414"/>
<rect x="306.8" y="373.80" width="44.0" height="1.50" fill="#232c08"/>
<rect x="306.8" y="375.30" width="44.0" height="3.00" fill="#d0ee14"/>
<rect x="306.8" y="378.30" width="44.0" height="1.00" fill="#232c08"/>
<rect x="306.8" y="379.30" width="44.0" height="1.20" fill="#767a24"/>
<rect x="306.8" y="380.50" width="44.0" height="1.30" fill="#232c08"/>
<rect x="306.8" y="381.80" width="44.0" height="1.50" fill="#6c8418"/>
<rect x="306.8" y="383.30" width="44.0" height="1.50" fill="#141200"/>
<rect x="306.8" y="384.80" width="44.0" height="1.50" fill="#f4f414"/>
<rect x="306.8" y="386.30" width="44.0" height="1.00" fill="#f4f414"/>
<rect x="306.8" y="387.30" width="44.0" height="1.80" fill="#141200"/>
<rect x="306.8" y="389.10" width="44.0" height="8.00" fill="#f4f414"/>
<rect x="306.8" y="397.10" width="44.0" height="1.40" fill="#232c08"/>
<rect x="306.8" y="398.50" width="44.0" height="3.00" fill="#f4f414"/>
<rect x="306.8" y="401.50" width="44.0" height="1.60" fill="#232c08"/>
<rect x="306.8" y="403.10" width="44.0" height="1.00" fill="#6c8418"/>
<rect x="306.8" y="404.10" width="44.0" height="1.70" fill="#141200"/>
<rect x="306.8" y="405.80" width="44.0" height="1.50" fill="#f4f414"/>
<rect x="306.8" y="407.30" width="44.0" height="1.50" fill="#6a8c1c"/>
<rect x="306.8" y="408.80" width="44.0" height="1.50" fill="#4a6010"/>
<rect x="306.8" y="410.30" width="44.0" height="1.50" fill="#b0c830"/>
<rect x="306.8" y="411.80" width="44.0" height="1.00" fill="#232c08"/>
<rect x="306.8" y="412.80" width="44.0" height="0.70" fill="#b0c830"/>
<rect x="306.8" y="413.50" width="44.0" height="1.00" fill="#232c08"/>
<rect x="306.8" y="414.50" width="44.0" height="5.80" fill="#f4f414"/>
<rect x="306.8" y="420.30" width="44.0" height="1.80" fill="#141200"/>
<rect x="306.8" y="422.10" width="44.0" height="4.70" fill="#f4f414"/>
<rect x="306.8" y="426.80" width="44.0" height="1.30" fill="#232c08"/>
<rect x="306.8" y="428.10" width="44.0" height="3.70" fill="#f4f414"/>
<rect x="306.8" y="431.80" width="44.0" height="1.30" fill="#6c8418"/>
<rect x="306.8" y="433.10" width="44.0" height="2.70" fill="#f4f414"/>
<rect x="306.8" y="435.80" width="44.0" height="2.30" fill="#141200"/>
<rect x="306.8" y="438.10" width="44.0" height="1.20" fill="#6c8418"/>
<rect x="306.8" y="439.30" width="44.0" height="1.00" fill="#b0c830"/>
<rect x="306.8" y="440.30" width="44.0" height="1.00" fill="#6c8418"/>
<rect x="306.8" y="441.30" width="44.0" height="1.00" fill="#232c08"/>
<rect x="306.8" y="442.30" width="44.0" height="4.00" fill="#d0ee14"/>
<rect x="306.8" y="446.30" width="44.0" height="1.00" fill="#232c08"/>
<rect x="306.8" y="447.30" width="44.0" height="1.50" fill="#141200"/>
<rect x="306.8" y="448.80" width="44.0" height="5.50" fill="#f4f414"/>
<rect x="306.8" y="454.30" width="44.0" height="1.20" fill="#232c08"/>
<rect x="306.8" y="455.50" width="44.0" height="2.80" fill="#767a24"/>
<rect x="306.8" y="458.30" width="44.0" height="1.20" fill="#e8e080"/>
<rect x="306.8" y="459.50" width="44.0" height="2.30" fill="#141200"/>
<rect x="306.8" y="461.80" width="44.0" height="1.50" fill="#6c8418"/>
<rect x="306.8" y="463.30" width="44.0" height="1.00" fill="#232c08"/>
<rect x="306.8" y="464.30" width="44.0" height="5.00" fill="#f4f414"/>
<rect x="306.8" y="469.30" width="44.0" height="1.50" fill="#232c08"/>
<rect x="306.8" y="470.80" width="44.0" height="1.50" fill="#d0ee14"/>
<rect x="306.8" y="472.30" width="44.0" height="1.00" fill="#f4f414"/>
<rect x="306.8" y="473.30" width="44.0" height="1.80" fill="#141200"/>
<rect x="306.8" y="475.10" width="44.0" height="1.40" fill="#6c8418"/>
<rect x="306.8" y="476.50" width="44.0" height="3.30" fill="#f4f414"/>
<rect x="306.8" y="479.80" width="44.0" height="1.50" fill="#232c08"/>
<rect x="306.8" y="481.30" width="44.0" height="3.00" fill="#767a24"/>
<rect x="306.8" y="484.30" width="44.0" height="1.20" fill="#232c08"/>
<rect x="306.8" y="485.50" width="44.0" height="1.60" fill="#141200"/>
<rect x="306.8" y="487.10" width="44.0" height="1.40" fill="#d0ee14"/>
<rect x="306.8" y="488.50" width="44.0" height="1.40" fill="#141200"/>
<rect x="357.6" y="58.5" width="43.7" height="431.4" fill="#806020"/>
<rect x="357.6" y="58.50" width="43.7" height="0.52" fill="#261004"/>
<rect x="357.6" y="59.02" width="43.7" height="1.50" fill="#847018"/>
<rect x="357.6" y="60.52" width="43.7" height="1.20" fill="#261004"/>
<rect x="357.6" y="61.72" width="43.7" height="2.80" fill="#d0ee14"/>
<rect x="357.6" y="64.52" width="43.7" height="1.80" fill="#141200"/>
<rect x="357.6" y="66.32" width="43.7" height="2.70" fill="#b0c830"/>
<rect x="357.6" y="69.02" width="43.7" height="1.30" fill="#261004"/>
<rect x="357.6" y="70.32" width="43.7" height="1.70" fill="#7c1e0c"/>
<rect x="357.6" y="72.02" width="43.7" height="2.00" fill="#420a04"/>
<rect x="357.6" y="74.02" width="43.7" height="1.50" fill="#7c1e0c"/>
<rect x="357.6" y="75.52" width="43.7" height="2.50" fill="#420a04"/>
<rect x="357.6" y="78.02" width="43.7" height="1.00" fill="#261004"/>
<rect x="357.6" y="79.02" width="43.7" height="2.00" fill="#a86018"/>
<rect x="357.6" y="81.02" width="43.7" height="1.00" fill="#261004"/>
<rect x="357.6" y="82.02" width="43.7" height="2.00" fill="#e05226"/>
<rect x="357.6" y="84.02" width="43.7" height="1.50" fill="#420a04"/>
<rect x="357.6" y="85.52" width="43.7" height="2.80" fill="#847018"/>
<rect x="357.6" y="88.32" width="43.7" height="1.20" fill="#261004"/>
<rect x="357.6" y="89.52" width="43.7" height="5.50" fill="#141200"/>
<rect x="357.6" y="95.02" width="43.7" height="1.00" fill="#420a04"/>
<rect x="357.6" y="96.02" width="43.7" height="1.00" fill="#e05226"/>
<rect x="357.6" y="97.02" width="43.7" height="1.30" fill="#261004"/>
<rect x="357.6" y="98.32" width="43.7" height="3.20" fill="#e05226"/>
<rect x="357.6" y="101.52" width="43.7" height="1.50" fill="#261004"/>
<rect x="357.6" y="103.02" width="43.7" height="1.70" fill="#847018"/>
<rect x="357.6" y="104.72" width="43.7" height="1.30" fill="#261004"/>
<rect x="357.6" y="106.02" width="43.7" height="1.30" fill="#e05226"/>
<rect x="357.6" y="107.32" width="43.7" height="1.20" fill="#261004"/>
<rect x="357.6" y="108.52" width="43.7" height="1.50" fill="#7c1e0c"/>
<rect x="357.6" y="110.02" width="43.7" height="1.00" fill="#261004"/>
<rect x="357.6" y="111.02" width="43.7" height="2.50" fill="#e05226"/>
<rect x="357.6" y="113.52" width="43.7" height="1.00" fill="#261004"/>
<rect x="357.6" y="114.52" width="43.7" height="2.00" fill="#7c1e0c"/>
<rect x="357.6" y="116.52" width="43.7" height="1.50" fill="#261004"/>
<rect x="357.6" y="118.02" width="43.7" height="1.50" fill="#7c1e0c"/>
<rect x="357.6" y="119.52" width="43.7" height="1.00" fill="#261004"/>
<rect x="357.6" y="120.52" width="43.7" height="1.50" fill="#847018"/>
<rect x="357.6" y="122.02" width="43.7" height="1.00" fill="#261004"/>
<rect x="357.6" y="123.02" width="43.7" height="2.00" fill="#e8b82c"/>
<rect x="357.6" y="125.02" width="43.7" height="1.00" fill="#261004"/>
<rect x="357.6" y="126.02" width="43.7" height="2.00" fill="#7c1e0c"/>
<rect x="357.6" y="128.02" width="43.7" height="3.50" fill="#420a04"/>
<rect x="357.6" y="131.52" width="43.7" height="2.00" fill="#e8b82c"/>
<rect x="357.6" y="133.52" width="43.7" height="1.50" fill="#261004"/>
<rect x="357.6" y="135.02" width="43.7" height="1.50" fill="#e05226"/>
<rect x="357.6" y="136.52" width="43.7" height="1.50" fill="#261004"/>
<rect x="357.6" y="138.02" width="43.7" height="2.50" fill="#a86018"/>
<rect x="357.6" y="140.52" width="43.7" height="1.00" fill="#261004"/>
<rect x="357.6" y="141.52" width="43.7" height="2.00" fill="#f4f414"/>
<rect x="357.6" y="143.52" width="43.7" height="2.00" fill="#4a6010"/>
<rect x="357.6" y="145.52" width="43.7" height="1.20" fill="#420a04"/>
<rect x="357.6" y="146.72" width="43.7" height="1.60" fill="#7c1e0c"/>
<rect x="357.6" y="148.32" width="43.7" height="1.20" fill="#a86018"/>
<rect x="357.6" y="149.52" width="43.7" height="1.50" fill="#261004"/>
<rect x="357.6" y="151.02" width="43.7" height="1.00" fill="#e8b82c"/>
<rect x="357.6" y="152.02" width="43.7" height="1.50" fill="#e05226"/>
<rect x="357.6" y="153.52" width="43.7" height="1.50" fill="#261004"/>
<rect x="357.6" y="155.02" width="43.7" height="2.00" fill="#420a04"/>
<rect x="357.6" y="157.02" width="43.7" height="1.50" fill="#e46428"/>
<rect x="357.6" y="158.52" width="43.7" height="1.50" fill="#e8b82c"/>
<rect x="357.6" y="160.02" width="43.7" height="1.50" fill="#261004"/>
<rect x="357.6" y="161.52" width="43.7" height="1.50" fill="#847018"/>
<rect x="357.6" y="163.02" width="43.7" height="3.50" fill="#141200"/>
<rect x="357.6" y="166.52" width="43.7" height="1.50" fill="#4a6010"/>
<rect x="357.6" y="168.02" width="43.7" height="2.50" fill="#f4f414"/>
<rect x="357.6" y="170.52" width="43.7" height="1.50" fill="#847018"/>
<rect x="357.6" y="172.02" width="43.7" height="1.50" fill="#a86018"/>
<rect x="357.6" y="173.52" width="43.7" height="1.00" fill="#261004"/>
<rect x="357.6" y="174.52" width="43.7" height="1.50" fill="#7c1e0c"/>
<rect x="357.6" y="176.02" width="43.7" height="1.50" fill="#261004"/>
<rect x="357.6" y="177.52" width="43.7" height="2.00" fill="#847018"/>
<rect x="357.6" y="179.52" width="43.7" height="2.50" fill="#f4f414"/>
<rect x="357.6" y="182.02" width="43.7" height="1.50" fill="#261004"/>
<rect x="357.6" y="183.52" width="43.7" height="2.00" fill="#141200"/>
<rect x="357.6" y="185.52" width="43.7" height="1.50" fill="#e8e080"/>
<rect x="357.6" y="187.02" width="43.7" height="1.30" fill="#2c2a0a"/>
<rect x="357.6" y="188.32" width="43.7" height="2.70" fill="#847018"/>
<rect x="357.6" y="191.02" width="43.7" height="1.30" fill="#e8e080"/>
<rect x="357.6" y="192.32" width="43.7" height="3.20" fill="#420a04"/>
<rect x="357.6" y="195.52" width="43.7" height="1.20" fill="#a86018"/>
<rect x="357.6" y="196.72" width="43.7" height="1.80" fill="#e46428"/>
<rect x="357.6" y="198.52" width="43.7" height="1.50" fill="#e05226"/>
<rect x="357.6" y="200.02" width="43.7" height="2.00" fill="#e46428"/>
<rect x="357.6" y="202.02" width="43.7" height="2.00" fill="#e8b82c"/>
<rect x="357.6" y="204.02" width="43.7" height="2.00" fill="#141200"/>
<rect x="357.6" y="206.02" width="43.7" height="3.30" fill="#e8b82c"/>
<rect x="357.6" y="209.32" width="43.7" height="1.70" fill="#141200"/>
<rect x="357.6" y="211.02" width="43.7" height="2.00" fill="#e8b82c"/>
<rect x="357.6" y="213.02" width="43.7" height="4.00" fill="#f4f414"/>
<rect x="357.6" y="217.02" width="43.7" height="1.50" fill="#2c2a0a"/>
<rect x="357.6" y="218.52" width="43.7" height="1.50" fill="#808a1c"/>
<rect x="357.6" y="220.02" width="43.7" height="1.50" fill="#847018"/>
<rect x="357.6" y="221.52" width="43.7" height="1.80" fill="#420a04"/>
<rect x="357.6" y="223.32" width="43.7" height="1.70" fill="#e05226"/>
<rect x="357.6" y="225.02" width="43.7" height="1.50" fill="#2c2a0a"/>
<rect x="357.6" y="226.52" width="43.7" height="1.50" fill="#808a1c"/>
<rect x="357.6" y="228.02" width="43.7" height="2.00" fill="#4a6010"/>
<rect x="357.6" y="230.02" width="43.7" height="4.50" fill="#d0ee14"/>
<rect x="357.6" y="234.52" width="43.7" height="1.00" fill="#2c2a0a"/>
<rect x="357.6" y="235.52" width="43.7" height="6.00" fill="#4a6010"/>
<rect x="357.6" y="241.52" width="43.7" height="1.50" fill="#808a1c"/>
<rect x="357.6" y="243.02" width="43.7" height="3.00" fill="#141200"/>
<rect x="357.6" y="246.02" width="43.7" height="2.00" fill="#4a6010"/>
<rect x="357.6" y="248.02" width="43.7" height="2.00" fill="#b0c830"/>
<rect x="357.6" y="250.02" width="43.7" height="1.00" fill="#2c2a0a"/>
<rect x="357.6" y="251.02" width="43.7" height="1.50" fill="#847018"/>
<rect x="357.6" y="252.52" width="43.7" height="2.00" fill="#847018"/>
<rect x="357.6" y="254.52" width="43.7" height="4.00" fill="#d0ee14"/>
<rect x="357.6" y="258.52" width="43.7" height="1.50" fill="#2c2a0a"/>
<rect x="357.6" y="260.02" width="43.7" height="1.00" fill="#808a1c"/>
<rect x="357.6" y="261.02" width="43.7" height="1.00" fill="#2c2a0a"/>
<rect x="357.6" y="262.02" width="43.7" height="1.50" fill="#e8e080"/>
<rect x="357.6" y="263.52" width="43.7" height="3.00" fill="#4a6010"/>
<rect x="357.6" y="266.52" width="43.7" height="1.00" fill="#2c2a0a"/>
<rect x="357.6" y="267.52" width="43.7" height="1.50" fill="#b0c830"/>
<rect x="357.6" y="269.02" width="43.7" height="1.50" fill="#808a1c"/>
<rect x="357.6" y="270.52" width="43.7" height="2.00" fill="#d0ee14"/>
<rect x="357.6" y="272.52" width="43.7" height="3.00" fill="#1e2656"/>
<rect x="357.6" y="275.52" width="43.7" height="1.50" fill="#98b4d8"/>
<rect x="357.6" y="277.02" width="43.7" height="2.00" fill="#1e2656"/>
<rect x="357.6" y="279.02" width="43.7" height="2.00" fill="#b0c830"/>
<rect x="357.6" y="281.02" width="43.7" height="1.00" fill="#e8b82c"/>
<rect x="357.6" y="282.02" width="43.7" height="2.50" fill="#d0ee14"/>
<rect x="357.6" y="284.52" width="43.7" height="1.50" fill="#2c2a0a"/>
<rect x="357.6" y="286.02" width="43.7" height="2.50" fill="#808a1c"/>
<rect x="357.6" y="288.52" width="43.7" height="1.50" fill="#4a6010"/>
<rect x="357.6" y="290.02" width="43.7" height="1.50" fill="#a0a880"/>
<rect x="357.6" y="291.52" width="43.7" height="2.00" fill="#6a8c1c"/>
<rect x="357.6" y="293.52" width="43.7" height="3.00" fill="#808a1c"/>
<rect x="357.6" y="296.52" width="43.7" height="1.50" fill="#4a6010"/>
<rect x="357.6" y="298.02" width="43.7" height="1.30" fill="#b0c830"/>
<rect x="357.6" y="299.32" width="43.7" height="1.20" fill="#2c2a0a"/>
<rect x="357.6" y="300.52" width="43.7" height="1.00" fill="#a0a880"/>
<rect x="357.6" y="301.52" width="43.7" height="1.50" fill="#6274a4"/>
<rect x="357.6" y="303.02" width="43.7" height="1.00" fill="#2c2a0a"/>
<rect x="357.6" y="304.02" width="43.7" height="2.50" fill="#2a38b0"/>
<rect x="357.6" y="306.52" width="43.7" height="1.50" fill="#6274a4"/>
<rect x="357.6" y="308.02" width="43.7" height="1.00" fill="#2c2a0a"/>
<rect x="357.6" y="309.02" width="43.7" height="3.30" fill="#2a38b0"/>
<rect x="357.6" y="312.32" width="43.7" height="1.40" fill="#2c2a0a"/>
<rect x="357.6" y="313.72" width="43.7" height="1.60" fill="#b0c830"/>
<rect x="357.6" y="315.32" width="43.7" height="1.20" fill="#2c2a0a"/>
<rect x="357.6" y="316.52" width="43.7" height="1.50" fill="#6274a4"/>
<rect x="357.6" y="318.02" width="43.7" height="1.50" fill="#2c2a0a"/>
<rect x="357.6" y="319.52" width="43.7" height="1.50" fill="#4a6010"/>
<rect x="357.6" y="321.02" width="43.7" height="1.00" fill="#283010"/>
<rect x="357.6" y="322.02" width="43.7" height="3.50" fill="#7a8a1c"/>
<rect x="357.6" y="325.52" width="43.7" height="1.50" fill="#283010"/>
<rect x="357.6" y="327.02" width="43.7" height="2.00" fill="#a0a880"/>
<rect x="357.6" y="329.02" width="43.7" height="1.30" fill="#6274a4"/>
<rect x="357.6" y="330.32" width="43.7" height="1.70" fill="#283010"/>
<rect x="357.6" y="332.02" width="43.7" height="2.00" fill="#7a8a1c"/>
<rect x="357.6" y="334.02" width="43.7" height="2.00" fill="#4a6010"/>
<rect x="357.6" y="336.02" width="43.7" height="1.50" fill="#7a8a1c"/>
<rect x="357.6" y="337.52" width="43.7" height="2.00" fill="#b0c830"/>
<rect x="357.6" y="339.52" width="43.7" height="2.50" fill="#a0a880"/>
<rect x="357.6" y="342.02" width="43.7" height="2.00" fill="#141200"/>
<rect x="357.6" y="344.02" width="43.7" height="2.00" fill="#b0c830"/>
<rect x="357.6" y="346.02" width="43.7" height="1.50" fill="#141200"/>
<rect x="357.6" y="347.52" width="43.7" height="3.00" fill="#2a38b0"/>
<rect x="357.6" y="350.52" width="43.7" height="1.20" fill="#283010"/>
<rect x="357.6" y="351.72" width="43.7" height="1.60" fill="#7a8a1c"/>
<rect x="357.6" y="353.32" width="43.7" height="1.20" fill="#b0c830"/>
<rect x="357.6" y="354.52" width="43.7" height="1.50" fill="#283010"/>
<rect x="357.6" y="356.02" width="43.7" height="2.00" fill="#2a38b0"/>
<rect x="357.6" y="358.02" width="43.7" height="1.00" fill="#283010"/>
<rect x="357.6" y="359.02" width="43.7" height="2.50" fill="#d0ee14"/>
<rect x="357.6" y="361.52" width="43.7" height="1.00" fill="#283010"/>
<rect x="357.6" y="362.52" width="43.7" height="1.50" fill="#7a8a1c"/>
<rect x="357.6" y="364.02" width="43.7" height="1.50" fill="#283010"/>
<rect x="357.6" y="365.52" width="43.7" height="3.00" fill="#b0c830"/>
<rect x="357.6" y="368.52" width="43.7" height="1.00" fill="#283010"/>
<rect x="357.6" y="369.52" width="43.7" height="2.50" fill="#d0ee14"/>
<rect x="357.6" y="372.02" width="43.7" height="1.50" fill="#4a6010"/>
<rect x="357.6" y="373.52" width="43.7" height="2.00" fill="#7a8a1c"/>
<rect x="357.6" y="375.52" width="43.7" height="1.50" fill="#283010"/>
<rect x="357.6" y="377.02" width="43.7" height="1.50" fill="#d0ee14"/>
<rect x="357.6" y="378.52" width="43.7" height="1.50" fill="#283010"/>
<rect x="357.6" y="380.02" width="43.7" height="1.50" fill="#7a8a1c"/>
<rect x="357.6" y="381.52" width="43.7" height="1.50" fill="#283010"/>
<rect x="357.6" y="383.02" width="43.7" height="1.50" fill="#a0a880"/>
<rect x="357.6" y="384.52" width="43.7" height="2.00" fill="#6274a4"/>
<rect x="357.6" y="386.52" width="43.7" height="1.00" fill="#7a8a1c"/>
<rect x="357.6" y="387.52" width="43.7" height="1.00" fill="#1e2656"/>
<rect x="357.6" y="388.52" width="43.7" height="2.00" fill="#2a38b0"/>
<rect x="357.6" y="390.52" width="43.7" height="3.50" fill="#d0ee14"/>
<rect x="357.6" y="394.02" width="43.7" height="1.00" fill="#283010"/>
<rect x="357.6" y="395.02" width="43.7" height="2.00" fill="#2a38b0"/>
<rect x="357.6" y="397.02" width="43.7" height="1.30" fill="#283010"/>
<rect x="357.6" y="398.32" width="43.7" height="1.70" fill="#a0a880"/>
<rect x="357.6" y="400.02" width="43.7" height="2.00" fill="#7a8a1c"/>
<rect x="357.6" y="402.02" width="43.7" height="3.00" fill="#1e2656"/>
<rect x="357.6" y="405.02" width="43.7" height="1.50" fill="#283010"/>
<rect x="357.6" y="406.52" width="43.7" height="1.50" fill="#b0c830"/>
<rect x="357.6" y="408.02" width="43.7" height="1.50" fill="#4a6010"/>
<rect x="357.6" y="409.52" width="43.7" height="2.00" fill="#7a8a1c"/>
<rect x="357.6" y="411.52" width="43.7" height="2.50" fill="#4a6010"/>
<rect x="357.6" y="414.02" width="43.7" height="1.00" fill="#283010"/>
<rect x="357.6" y="415.02" width="43.7" height="1.00" fill="#a0a880"/>
<rect x="357.6" y="416.02" width="43.7" height="1.50" fill="#283010"/>
<rect x="357.6" y="417.52" width="43.7" height="3.00" fill="#d0ee14"/>
<rect x="357.6" y="420.52" width="43.7" height="2.00" fill="#141200"/>
<rect x="357.6" y="422.52" width="43.7" height="4.00" fill="#d0ee14"/>
<rect x="357.6" y="426.52" width="43.7" height="1.50" fill="#283010"/>
<rect x="357.6" y="428.02" width="43.7" height="2.50" fill="#d0ee14"/>
<rect x="357.6" y="430.52" width="43.7" height="1.50" fill="#a09028"/>
<rect x="357.6" y="432.02" width="43.7" height="2.50" fill="#b0c830"/>
<rect x="357.6" y="434.52" width="43.7" height="1.50" fill="#d0ee14"/>
<rect x="357.6" y="436.02" width="43.7" height="2.50" fill="#141200"/>
<rect x="357.6" y="438.52" width="43.7" height="2.00" fill="#a09028"/>
<rect x="357.6" y="440.52" width="43.7" height="1.50" fill="#283010"/>
<rect x="357.6" y="442.02" width="43.7" height="4.50" fill="#e8b82c"/>
<rect x="357.6" y="446.52" width="43.7" height="2.00" fill="#141200"/>
<rect x="357.6" y="448.52" width="43.7" height="6.00" fill="#f4f414"/>
<rect x="357.6" y="454.52" width="43.7" height="2.00" fill="#283010"/>
<rect x="357.6" y="456.52" width="43.7" height="1.20" fill="#7a8a1c"/>
<rect x="357.6" y="457.72" width="43.7" height="1.30" fill="#f4f414"/>
<rect x="357.6" y="459.02" width="43.7" height="2.00" fill="#141200"/>
<rect x="357.6" y="461.02" width="43.7" height="2.00" fill="#a09028"/>
<rect x="357.6" y="463.02" width="43.7" height="1.50" fill="#283010"/>
<rect x="357.6" y="464.52" width="43.7" height="4.00" fill="#d0ee14"/>
<rect x="357.6" y="468.52" width="43.7" height="2.50" fill="#6a8c1c"/>
<rect x="357.6" y="471.02" width="43.7" height="1.50" fill="#4a6010"/>
<rect x="357.6" y="472.52" width="43.7" height="1.80" fill="#141200"/>
<rect x="357.6" y="474.32" width="43.7" height="2.20" fill="#7a8a1c"/>
<rect x="357.6" y="476.52" width="43.7" height="1.20" fill="#283010"/>
<rect x="357.6" y="477.72" width="43.7" height="1.30" fill="#6a8c1c"/>
<rect x="357.6" y="479.02" width="43.7" height="1.50" fill="#d0ee14"/>
<rect x="357.6" y="480.52" width="43.7" height="1.20" fill="#283010"/>
<rect x="357.6" y="481.72" width="43.7" height="1.60" fill="#a09028"/>
<rect x="357.6" y="483.32" width="43.7" height="1.20" fill="#283010"/>
<rect x="357.6" y="484.52" width="43.7" height="1.50" fill="#f4f414"/>
<rect x="357.6" y="486.02" width="43.7" height="1.50" fill="#141200"/>
<rect x="357.6" y="487.52" width="43.7" height="1.00" fill="#f4f414"/>
<rect x="357.6" y="488.52" width="43.7" height="1.38" fill="#141200"/>
<rect x="407.9" y="58.5" width="43.8" height="431.4" fill="#807020"/>
<rect x="407.9" y="58.50" width="43.8" height="0.44" fill="#141200"/>
<rect x="407.9" y="58.94" width="43.8" height="2.00" fill="#847018"/>
<rect x="407.9" y="60.94" width="43.8" height="1.00" fill="#261004"/>
<rect x="407.9" y="61.94" width="43.8" height="2.00" fill="#f4f414"/>
<rect x="407.9" y="63.94" width="43.8" height="2.00" fill="#141200"/>
<rect x="407.9" y="65.94" width="43.8" height="1.30" fill="#b0c830"/>
<rect x="407.9" y="67.24" width="43.8" height="1.50" fill="#847018"/>
<rect x="407.9" y="68.74" width="43.8" height="1.50" fill="#e8b82c"/>
<rect x="407.9" y="70.24" width="43.8" height="1.50" fill="#261004"/>
<rect x="407.9" y="71.74" width="43.8" height="2.00" fill="#7c1e0c"/>
<rect x="407.9" y="73.74" width="43.8" height="1.20" fill="#261004"/>
<rect x="407.9" y="74.94" width="43.8" height="1.30" fill="#e05226"/>
<rect x="407.9" y="76.24" width="43.8" height="2.00" fill="#420a04"/>
<rect x="407.9" y="78.24" width="43.8" height="2.30" fill="#847018"/>
<rect x="407.9" y="80.54" width="43.8" height="1.20" fill="#261004"/>
<rect x="407.9" y="81.74" width="43.8" height="1.80" fill="#e05226"/>
<rect x="407.9" y="83.54" width="43.8" height="1.20" fill="#261004"/>
<rect x="407.9" y="84.74" width="43.8" height="2.50" fill="#808a1c"/>
<rect x="407.9" y="87.24" width="43.8" height="2.00" fill="#420a04"/>
<rect x="407.9" y="89.24" width="43.8" height="6.00" fill="#141200"/>
<rect x="407.9" y="95.24" width="43.8" height="1.50" fill="#7c1e0c"/>
<rect x="407.9" y="96.74" width="43.8" height="1.50" fill="#261004"/>
<rect x="407.9" y="98.24" width="43.8" height="3.50" fill="#e05226"/>
<rect x="407.9" y="101.74" width="43.8" height="1.50" fill="#261004"/>
<rect x="407.9" y="103.24" width="43.8" height="1.50" fill="#7c1e0c"/>
<rect x="407.9" y="104.74" width="43.8" height="1.00" fill="#261004"/>
<rect x="407.9" y="105.74" width="43.8" height="1.50" fill="#a86018"/>
<rect x="407.9" y="107.24" width="43.8" height="1.30" fill="#261004"/>
<rect x="407.9" y="108.54" width="43.8" height="1.70" fill="#7c1e0c"/>
<rect x="407.9" y="110.24" width="43.8" height="1.50" fill="#261004"/>
<rect x="407.9" y="111.74" width="43.8" height="2.50" fill="#e05226"/>
<rect x="407.9" y="114.24" width="43.8" height="1.50" fill="#261004"/>
<rect x="407.9" y="115.74" width="43.8" height="1.50" fill="#7c1e0c"/>
<rect x="407.9" y="117.24" width="43.8" height="1.30" fill="#261004"/>
<rect x="407.9" y="118.54" width="43.8" height="1.70" fill="#a86018"/>
<rect x="407.9" y="120.24" width="43.8" height="0.50" fill="#261004"/>
<rect x="407.9" y="120.74" width="43.8" height="1.50" fill="#847018"/>
<rect x="407.9" y="122.24" width="43.8" height="1.00" fill="#261004"/>
<rect x="407.9" y="123.24" width="43.8" height="2.00" fill="#e8b82c"/>
<rect x="407.9" y="125.24" width="43.8" height="1.00" fill="#261004"/>
<rect x="407.9" y="126.24" width="43.8" height="2.50" fill="#7c1e0c"/>
<rect x="407.9" y="128.74" width="43.8" height="3.00" fill="#420a04"/>
<rect x="407.9" y="131.74" width="43.8" height="2.00" fill="#e8b82c"/>
<rect x="407.9" y="133.74" width="43.8" height="1.00" fill="#261004"/>
<rect x="407.9" y="134.74" width="43.8" height="2.00" fill="#847018"/>
<rect x="407.9" y="136.74" width="43.8" height="1.50" fill="#4a6010"/>
<rect x="407.9" y="138.24" width="43.8" height="1.50" fill="#b0c830"/>
<rect x="407.9" y="139.74" width="43.8" height="1.50" fill="#4a6010"/>
<rect x="407.9" y="141.24" width="43.8" height="2.00" fill="#e8b82c"/>
<rect x="407.9" y="143.24" width="43.8" height="2.00" fill="#420a04"/>
<rect x="407.9" y="145.24" width="43.8" height="3.00" fill="#7c1e0c"/>
<rect x="407.9" y="148.24" width="43.8" height="2.50" fill="#e05226"/>
<rect x="407.9" y="150.74" width="43.8" height="1.50" fill="#261004"/>
<rect x="407.9" y="152.24" width="43.8" height="2.00" fill="#e05226"/>
<rect x="407.9" y="154.24" width="43.8" height="3.00" fill="#420a04"/>
<rect x="407.9" y="157.24" width="43.8" height="2.50" fill="#e8b82c"/>
<rect x="407.9" y="159.74" width="43.8" height="1.50" fill="#261004"/>
<rect x="407.9" y="161.24" width="43.8" height="1.50" fill="#847018"/>
<rect x="407.9" y="162.74" width="43.8" height="4.00" fill="#141200"/>
<rect x="407.9" y="166.74" width="43.8" height="1.50" fill="#420a04"/>
<rect x="407.9" y="168.24" width="43.8" height="2.50" fill="#e05226"/>
<rect x="407.9" y="170.74" width="43.8" height="2.00" fill="#847018"/>
<rect x="407.9" y="172.74" width="43.8" height="2.00" fill="#420a04"/>
<rect x="407.9" y="174.74" width="43.8" height="1.50" fill="#7c1e0c"/>
<rect x="407.9" y="176.24" width="43.8" height="1.50" fill="#261004"/>
<rect x="407.9" y="177.74" width="43.8" height="1.50" fill="#a86018"/>
<rect x="407.9" y="179.24" width="43.8" height="1.50" fill="#261004"/>
<rect x="407.9" y="180.74" width="43.8" height="1.50" fill="#e8b82c"/>
<rect x="407.9" y="182.24" width="43.8" height="1.00" fill="#261004"/>
<rect x="407.9" y="183.24" width="43.8" height="2.00" fill="#141200"/>
<rect x="407.9" y="185.24" width="43.8" height="0.50" fill="#e8b82c"/>
<rect x="407.9" y="185.74" width="43.8" height="1.00" fill="#f4f414"/>
<rect x="407.9" y="186.74" width="43.8" height="1.50" fill="#2c2a0a"/>
<rect x="407.9" y="188.24" width="43.8" height="1.50" fill="#847018"/>
<rect x="407.9" y="189.74" width="43.8" height="1.50" fill="#4a6010"/>
<rect x="407.9" y="191.24" width="43.8" height="1.30" fill="#e8e080"/>
<rect x="407.9" y="192.54" width="43.8" height="3.70" fill="#141200"/>
<rect x="407.9" y="196.24" width="43.8" height="1.50" fill="#e8b82c"/>
<rect x="407.9" y="197.74" width="43.8" height="1.50" fill="#7c1e0c"/>
<rect x="407.9" y="199.24" width="43.8" height="1.00" fill="#f4f414"/>
<rect x="407.9" y="200.24" width="43.8" height="4.00" fill="#d0ee14"/>
<rect x="407.9" y="204.24" width="43.8" height="1.50" fill="#141200"/>
<rect x="407.9" y="205.74" width="43.8" height="3.50" fill="#b0c830"/>
<rect x="407.9" y="209.24" width="43.8" height="1.50" fill="#141200"/>
<rect x="407.9" y="210.74" width="43.8" height="6.00" fill="#f4f414"/>
<rect x="407.9" y="216.74" width="43.8" height="2.00" fill="#7c1e0c"/>
<rect x="407.9" y="218.74" width="43.8" height="2.00" fill="#a86018"/>
<rect x="407.9" y="220.74" width="43.8" height="1.00" fill="#e8e080"/>
<rect x="407.9" y="221.74" width="43.8" height="1.50" fill="#2c2a0a"/>
<rect x="407.9" y="223.24" width="43.8" height="2.00" fill="#e8b82c"/>
<rect x="407.9" y="225.24" width="43.8" height="1.50" fill="#2c2a0a"/>
<rect x="407.9" y="226.74" width="43.8" height="1.50" fill="#808a1c"/>
<rect x="407.9" y="228.24" width="43.8" height="1.50" fill="#4a6010"/>
<rect x="407.9" y="229.74" width="43.8" height="5.00" fill="#f4f414"/>
<rect x="407.9" y="234.74" width="43.8" height="1.50" fill="#141200"/>
<rect x="407.9" y="236.24" width="43.8" height="1.00" fill="#808a1c"/>
<rect x="407.9" y="237.24" width="43.8" height="2.50" fill="#7c1e0c"/>
<rect x="407.9" y="239.74" width="43.8" height="2.00" fill="#847018"/>
<rect x="407.9" y="241.74" width="43.8" height="1.50" fill="#e8b82c"/>
<rect x="407.9" y="243.24" width="43.8" height="3.00" fill="#420a04"/>
<rect x="407.9" y="246.24" width="43.8" height="1.50" fill="#808a1c"/>
<rect x="407.9" y="247.74" width="43.8" height="3.00" fill="#e8b82c"/>
<rect x="407.9" y="250.74" width="43.8" height="2.00" fill="#2c2a0a"/>
<rect x="407.9" y="252.74" width="43.8" height="1.50" fill="#847018"/>
<rect x="407.9" y="254.24" width="43.8" height="2.50" fill="#d0ee14"/>
<rect x="407.9" y="256.74" width="43.8" height="2.00" fill="#e8b82c"/>
<rect x="407.9" y="258.74" width="43.8" height="1.20" fill="#808a1c"/>
<rect x="407.9" y="259.94" width="43.8" height="1.60" fill="#2c2a0a"/>
<rect x="407.9" y="261.54" width="43.8" height="1.70" fill="#e8e080"/>
<rect x="407.9" y="263.24" width="43.8" height="1.50" fill="#2c2a0a"/>
<rect x="407.9" y="264.74" width="43.8" height="1.50" fill="#7c1e0c"/>
<rect x="407.9" y="266.24" width="43.8" height="1.50" fill="#2c2a0a"/>
<rect x="407.9" y="267.74" width="43.8" height="3.00" fill="#d0ee14"/>
<rect x="407.9" y="270.74" width="43.8" height="1.50" fill="#b0c830"/>
<rect x="407.9" y="272.24" width="43.8" height="3.00" fill="#1e2656"/>
<rect x="407.9" y="275.24" width="43.8" height="1.50" fill="#a0a880"/>
<rect x="407.9" y="276.74" width="43.8" height="2.50" fill="#808a1c"/>
<rect x="407.9" y="279.24" width="43.8" height="2.00" fill="#d0ee14"/>
<rect x="407.9" y="281.24" width="43.8" height="1.30" fill="#2c2a0a"/>
<rect x="407.9" y="282.54" width="43.8" height="2.70" fill="#d0ee14"/>
<rect x="407.9" y="285.24" width="43.8" height="1.50" fill="#2c2a0a"/>
<rect x="407.9" y="286.74" width="43.8" height="2.00" fill="#b0c830"/>
<rect x="407.9" y="288.74" width="43.8" height="1.50" fill="#4a6010"/>
<rect x="407.9" y="290.24" width="43.8" height="1.70" fill="#a0a880"/>
<rect x="407.9" y="291.94" width="43.8" height="1.80" fill="#808a1c"/>
<rect x="407.9" y="293.74" width="43.8" height="1.50" fill="#2c2a0a"/>
<rect x="407.9" y="295.24" width="43.8" height="1.50" fill="#4a6010"/>
<rect x="407.9" y="296.74" width="43.8" height="3.50" fill="#d0ee14"/>
<rect x="407.9" y="300.24" width="43.8" height="1.00" fill="#2c2a0a"/>
<rect x="407.9" y="301.24" width="43.8" height="1.50" fill="#98b4d8"/>
<rect x="407.9" y="302.74" width="43.8" height="1.50" fill="#1e2656"/>
<rect x="407.9" y="304.24" width="43.8" height="1.50" fill="#6274a4"/>
<rect x="407.9" y="305.74" width="43.8" height="1.50" fill="#808a1c"/>
<rect x="407.9" y="307.24" width="43.8" height="1.50" fill="#2c2a0a"/>
<rect x="407.9" y="308.74" width="43.8" height="1.50" fill="#2a38b0"/>
<rect x="407.9" y="310.24" width="43.8" height="1.50" fill="#1e2656"/>
<rect x="407.9" y="311.74" width="43.8" height="1.50" fill="#2c2a0a"/>
<rect x="407.9" y="313.24" width="43.8" height="2.00" fill="#b0c830"/>
<rect x="407.9" y="315.24" width="43.8" height="2.50" fill="#4a6010"/>
<rect x="407.9" y="317.74" width="43.8" height="2.00" fill="#d0ee14"/>
<rect x="407.9" y="319.74" width="43.8" height="1.80" fill="#7a8a1c"/>
<rect x="407.9" y="321.54" width="43.8" height="1.20" fill="#283010"/>
<rect x="407.9" y="322.74" width="43.8" height="1.50" fill="#b0c830"/>
<rect x="407.9" y="324.24" width="43.8" height="1.50" fill="#283010"/>
<rect x="407.9" y="325.74" width="43.8" height="2.00" fill="#6274a4"/>
<rect x="407.9" y="327.74" width="43.8" height="1.50" fill="#1e2656"/>
<rect x="407.9" y="329.24" width="43.8" height="1.50" fill="#6274a4"/>
<rect x="407.9" y="330.74" width="43.8" height="1.50" fill="#1e2656"/>
<rect x="407.9" y="332.24" width="43.8" height="2.50" fill="#2a38b0"/>
<rect x="407.9" y="334.74" width="43.8" height="2.50" fill="#4a6010"/>
<rect x="407.9" y="337.24" width="43.8" height="1.00" fill="#283010"/>
<rect x="407.9" y="338.24" width="43.8" height="4.00" fill="#2a38b0"/>
<rect x="407.9" y="342.24" width="43.8" height="1.50" fill="#283010"/>
<rect x="407.9" y="343.74" width="43.8" height="1.80" fill="#a0a880"/>
<rect x="407.9" y="345.54" width="43.8" height="2.20" fill="#141200"/>
<rect x="407.9" y="347.74" width="43.8" height="1.50" fill="#4a6010"/>
<rect x="407.9" y="349.24" width="43.8" height="3.50" fill="#d0ee14"/>
<rect x="407.9" y="352.74" width="43.8" height="1.50" fill="#7a8a1c"/>
<rect x="407.9" y="354.24" width="43.8" height="1.50" fill="#e8e080"/>
<rect x="407.9" y="355.74" width="43.8" height="3.50" fill="#2a38b0"/>
<rect x="407.9" y="359.24" width="43.8" height="1.50" fill="#283010"/>
<rect x="407.9" y="360.74" width="43.8" height="1.00" fill="#a0a880"/>
<rect x="407.9" y="361.74" width="43.8" height="1.50" fill="#283010"/>
<rect x="407.9" y="363.24" width="43.8" height="1.50" fill="#a0a880"/>
<rect x="407.9" y="364.74" width="43.8" height="3.00" fill="#4a6010"/>
<rect x="407.9" y="367.74" width="43.8" height="1.50" fill="#7a8a1c"/>
<rect x="407.9" y="369.24" width="43.8" height="1.50" fill="#b0c830"/>
<rect x="407.9" y="370.74" width="43.8" height="1.50" fill="#283010"/>
<rect x="407.9" y="372.24" width="43.8" height="2.00" fill="#6274a4"/>
<rect x="407.9" y="374.24" width="43.8" height="1.50" fill="#283010"/>
<rect x="407.9" y="375.74" width="43.8" height="1.50" fill="#a0a880"/>
<rect x="407.9" y="377.24" width="43.8" height="1.50" fill="#1e2656"/>
<rect x="407.9" y="378.74" width="43.8" height="2.00" fill="#2a38b0"/>
<rect x="407.9" y="380.74" width="43.8" height="1.50" fill="#a0a880"/>
<rect x="407.9" y="382.24" width="43.8" height="1.50" fill="#283010"/>
<rect x="407.9" y="383.74" width="43.8" height="1.50" fill="#6274a4"/>
<rect x="407.9" y="385.24" width="43.8" height="1.50" fill="#7a8a1c"/>
<rect x="407.9" y="386.74" width="43.8" height="1.00" fill="#a0a880"/>
<rect x="407.9" y="387.74" width="43.8" height="1.50" fill="#141200"/>
<rect x="407.9" y="389.24" width="43.8" height="1.00" fill="#98b4d8"/>
<rect x="407.9" y="390.24" width="43.8" height="2.50" fill="#d0ee14"/>
<rect x="407.9" y="392.74" width="43.8" height="1.50" fill="#b0c830"/>
<rect x="407.9" y="394.24" width="43.8" height="2.50" fill="#d0ee14"/>
<rect x="407.9" y="396.74" width="43.8" height="1.80" fill="#283010"/>
<rect x="407.9" y="398.54" width="43.8" height="2.70" fill="#d0ee14"/>
<rect x="407.9" y="401.24" width="43.8" height="1.50" fill="#283010"/>
<rect x="407.9" y="402.74" width="43.8" height="2.50" fill="#141200"/>
<rect x="407.9" y="405.24" width="43.8" height="1.00" fill="#7a8a1c"/>
<rect x="407.9" y="406.24" width="43.8" height="3.00" fill="#d0ee14"/>
<rect x="407.9" y="409.24" width="43.8" height="1.50" fill="#4a6010"/>
<rect x="407.9" y="410.74" width="43.8" height="1.50" fill="#a0a880"/>
<rect x="407.9" y="412.24" width="43.8" height="2.00" fill="#a09028"/>
<rect x="407.9" y="414.24" width="43.8" height="1.00" fill="#b0c830"/>
<rect x="407.9" y="415.24" width="43.8" height="5.00" fill="#f4f414"/>
<rect x="407.9" y="420.24" width="43.8" height="1.50" fill="#283010"/>
<rect x="407.9" y="421.74" width="43.8" height="1.00" fill="#7a8a1c"/>
<rect x="407.9" y="422.74" width="43.8" height="3.50" fill="#d0ee14"/>
<rect x="407.9" y="426.24" width="43.8" height="1.50" fill="#4a6010"/>
<rect x="407.9" y="427.74" width="43.8" height="1.00" fill="#f4f414"/>
<rect x="407.9" y="428.74" width="43.8" height="3.00" fill="#d0ee14"/>
<rect x="407.9" y="431.74" width="43.8" height="1.00" fill="#7a8a1c"/>
<rect x="407.9" y="432.74" width="43.8" height="2.80" fill="#d0ee14"/>
<rect x="407.9" y="435.54" width="43.8" height="2.70" fill="#141200"/>
<rect x="407.9" y="438.24" width="43.8" height="1.50" fill="#a0a880"/>
<rect x="407.9" y="439.74" width="43.8" height="1.00" fill="#4a6010"/>
<rect x="407.9" y="440.74" width="43.8" height="2.00" fill="#4a6010"/>
<rect x="407.9" y="442.74" width="43.8" height="3.50" fill="#d0ee14"/>
<rect x="407.9" y="446.24" width="43.8" height="2.50" fill="#141200"/>
<rect x="407.9" y="448.74" width="43.8" height="2.80" fill="#b0c830"/>
<rect x="407.9" y="451.54" width="43.8" height="1.20" fill="#283010"/>
<rect x="407.9" y="452.74" width="43.8" height="2.00" fill="#d0ee14"/>
<rect x="407.9" y="454.74" width="43.8" height="1.20" fill="#283010"/>
<rect x="407.9" y="455.94" width="43.8" height="1.80" fill="#a0a880"/>
<rect x="407.9" y="457.74" width="43.8" height="1.50" fill="#1e2656"/>
<rect x="407.9" y="459.24" width="43.8" height="2.00" fill="#141200"/>
<rect x="407.9" y="461.24" width="43.8" height="2.00" fill="#a09028"/>
<rect x="407.9" y="463.24" width="43.8" height="1.50" fill="#283010"/>
<rect x="407.9" y="464.74" width="43.8" height="4.50" fill="#d0ee14"/>
<rect x="407.9" y="469.24" width="43.8" height="1.50" fill="#283010"/>
<rect x="407.9" y="470.74" width="43.8" height="3.00" fill="#b0c830"/>
<rect x="407.9" y="473.74" width="43.8" height="1.50" fill="#283010"/>
<rect x="407.9" y="475.24" width="43.8" height="2.00" fill="#7a8a1c"/>
<rect x="407.9" y="477.24" width="43.8" height="1.50" fill="#4a6010"/>
<rect x="407.9" y="478.74" width="43.8" height="1.50" fill="#a0a880"/>
<rect x="407.9" y="480.24" width="43.8" height="1.30" fill="#283010"/>
<rect x="407.9" y="481.54" width="43.8" height="1.70" fill="#b0c830"/>
<rect x="407.9" y="483.24" width="43.8" height="1.50" fill="#7a8a1c"/>
<rect x="407.9" y="484.74" width="43.8" height="1.80" fill="#141200"/>
<rect x="407.9" y="486.54" width="43.8" height="2.20" fill="#d0ee14"/>
<rect x="407.9" y="488.74" width="43.8" height="1.16" fill="#141200"/>
</g>
<!-- brackets -->
<g fill="none" stroke="#222" stroke-width="1.6">
<path d="M39.8,55.5 V49.4 H180.4 V54.7"/>
<path d="M187.9,54.7 V49.4 H283.5 V54.2"/>
<path d="M304.3,55 V49.2 H349.8 V55"/>
<path d="M355.5,55 V49.2 H450.8 V55"/>
<path d="M132.1,540.7 H124.4 V671.4 H132.1"/>
</g>
<!-- colorbar -->
<defs><linearGradient id="g0" x1="0" y1="242.2" x2="0" y2="492.8" gradientUnits="userSpaceOnUse"><stop offset="-0.0008" stop-color="#ff92a4"/><stop offset="0.1109" stop-color="#ff96b3"/><stop offset="0.2306" stop-color="#ffaef6"/><stop offset="0.3504" stop-color="#ffa4ff"/><stop offset="0.4701" stop-color="#ffa9ff"/><stop offset="0.5499" stop-color="#ffa0ff"/><stop offset="0.6297" stop-color="#eca0ff"/><stop offset="0.7095" stop-color="#d9a0ff"/><stop offset="0.7893" stop-color="#bca0ff"/><stop offset="0.8691" stop-color="#a9a0ff"/><stop offset="0.9689" stop-color="#96a0ff"/><stop offset="1.0008" stop-color="#96a0ff"/></linearGradient><linearGradient id="g1" x1="0" y1="242.2" x2="0" y2="492.8" gradientUnits="userSpaceOnUse"><stop offset="-0.0008" stop-color="#ff657f"/><stop offset="0.1109" stop-color="#ff6a93"/><stop offset="0.2306" stop-color="#ff8cf2"/><stop offset="0.3504" stop-color="#ff7fff"/><stop offset="0.4701" stop-color="#ff85ff"/><stop offset="0.5499" stop-color="#ff78ff"/><stop offset="0.6297" stop-color="#e578ff"/><stop offset="0.7095" stop-color="#c978ff"/><stop offset="0.7893" stop-color="#a178ff"/><stop offset="0.8691" stop-color="#8578ff"/><stop offset="0.9689" stop-color="#6a78ff"/><stop offset="1.0008" stop-color="#6a78ff"/></linearGradient><linearGradient id="g2" x1="0" y1="242.2" x2="0" y2="492.8" gradientUnits="userSpaceOnUse"><stop offset="-0.0008" stop-color="#ff4867"/><stop offset="0.1109" stop-color="#ff4f7f"/><stop offset="0.2306" stop-color="#ff76ee"/><stop offset="0.3504" stop-color="#ff66fe"/><stop offset="0.4701" stop-color="#ff6dff"/><stop offset="0.5499" stop-color="#ff5dff"/><stop offset="0.6297" stop-color="#df5dff"/><stop offset="0.7095" stop-color="#bf5eff"/><stop offset="0.7893" stop-color="#8f5eff"/><stop offset="0.8691" stop-color="#6e5eff"/><stop offset="0.9689" stop-color="#4e5eff"/><stop offset="1.0008" stop-color="#4e5eff"/></linearGradient><linearGradient id="g3" x1="0" y1="242.2" x2="0" y2="492.8" gradientUnits="userSpaceOnUse"><stop offset="-0.0008" stop-color="#ff4363"/><stop offset="0.1109" stop-color="#ff4a7c"/><stop offset="0.2306" stop-color="#ff6fe8"/><stop offset="0.3504" stop-color="#ff5ffb"/><stop offset="0.4701" stop-color="#ff65ff"/><stop offset="0.5499" stop-color="#fd55ff"/><stop offset="0.6297" stop-color="#dc55ff"/><stop offset="0.7095" stop-color="#bc57fd"/><stop offset="0.7893" stop-color="#8a57fd"/><stop offset="0.8691" stop-color="#6858ff"/><stop offset="0.9689" stop-color="#4858ff"/><stop offset="1.0008" stop-color="#4858ff"/></linearGradient><linearGradient id="g4" x1="0" y1="242.2" x2="0" y2="492.8" gradientUnits="userSpaceOnUse"><stop offset="-0.0008" stop-color="#ff3e60"/><stop offset="0.1109" stop-color="#ff4679"/><stop offset="0.2306" stop-color="#ff69e3"/><stop offset="0.3504" stop-color="#ff59f9"/><stop offset="0.4701" stop-color="#ff5cff"/><stop offset="0.5499" stop-color="#fc4cff"/><stop offset="0.6297" stop-color="#d94cff"/><stop offset="0.7095" stop-color="#b94ffc"/><stop offset="0.7893" stop-color="#864ffc"/><stop offset="0.8691" stop-color="#6353ff"/><stop offset="0.9689" stop-color="#4353ff"/><stop offset="1.0008" stop-color="#4353ff"/></linearGradient><linearGradient id="g5" x1="0" y1="242.2" x2="0" y2="492.8" gradientUnits="userSpaceOnUse"><stop offset="-0.0008" stop-color="#ff395c"/><stop offset="0.1109" stop-color="#ff4277"/><stop offset="0.2306" stop-color="#ff63dd"/><stop offset="0.3504" stop-color="#ff53f6"/><stop offset="0.4701" stop-color="#ff54ff"/><stop offset="0.5499" stop-color="#fb44ff"/><stop offset="0.6297" stop-color="#d744ff"/><stop offset="0.7095" stop-color="#b748fb"/><stop offset="0.7893" stop-color="#8248fb"/><stop offset="0.8691" stop-color="#5d4dff"/><stop offset="0.9689" stop-color="#3d4dff"/><stop offset="1.0008" stop-color="#3d4dff"/></linearGradient><linearGradient id="g6" x1="0" y1="242.2" x2="0" y2="492.8" gradientUnits="userSpaceOnUse"><stop offset="-0.0008" stop-color="#ff3459"/><stop offset="0.1109" stop-color="#ff3e74"/><stop offset="0.2306" stop-color="#ff5cd8"/><stop offset="0.3504" stop-color="#ff4cf3"/><stop offset="0.4701" stop-color="#ff4bff"/><stop offset="0.5499" stop-color="#f93bff"/><stop offset="0.6297" stop-color="#d43bff"/><stop offset="0.7095" stop-color="#b441f9"/><stop offset="0.7893" stop-color="#7e41f9"/><stop offset="0.8691" stop-color="#5848ff"/><stop offset="0.9689" stop-color="#3848ff"/><stop offset="1.0008" stop-color="#3848ff"/></linearGradient><linearGradient id="g7" x1="0" y1="242.2" x2="0" y2="492.8" gradientUnits="userSpaceOnUse"><stop offset="-0.0008" stop-color="#ff2f55"/><stop offset="0.1109" stop-color="#ff3971"/><stop offset="0.2306" stop-color="#ff56d2"/><stop offset="0.3504" stop-color="#ff46f0"/><stop offset="0.4701" stop-color="#ff43ff"/><stop offset="0.5499" stop-color="#f833ff"/><stop offset="0.6297" stop-color="#d133ff"/><stop offset="0.7095" stop-color="#b13af8"/><stop offset="0.7893" stop-color="#793af8"/><stop offset="0.8691" stop-color="#5242ff"/><stop offset="0.9689" stop-color="#3242ff"/><stop offset="1.0008" stop-color="#3242ff"/></linearGradient><linearGradient id="g8" x1="0" y1="242.2" x2="0" y2="492.8" gradientUnits="userSpaceOnUse"><stop offset="-0.0008" stop-color="#ff2a52"/><stop offset="0.1109" stop-color="#ff356e"/><stop offset="0.2306" stop-color="#ff50cc"/><stop offset="0.3504" stop-color="#ff40ee"/><stop offset="0.4701" stop-color="#ff3aff"/><stop offset="0.5499" stop-color="#f72aff"/><stop offset="0.6297" stop-color="#ce2aff"/><stop offset="0.7095" stop-color="#ae33f7"/><stop offset="0.7893" stop-color="#7533f7"/><stop offset="0.8691" stop-color="#4c3cff"/><stop offset="0.9689" stop-color="#2c3cff"/><stop offset="1.0008" stop-color="#2c3cff"/></linearGradient><linearGradient id="g9" x1="0" y1="242.2" x2="0" y2="492.8" gradientUnits="userSpaceOnUse"><stop offset="-0.0008" stop-color="#ff244e"/><stop offset="0.1109" stop-color="#ff316b"/><stop offset="0.2306" stop-color="#ff49c7"/><stop offset="0.3504" stop-color="#ff39eb"/><stop offset="0.4701" stop-color="#ff32ff"/><stop offset="0.5499" stop-color="#f522ff"/><stop offset="0.6297" stop-color="#cb22ff"/><stop offset="0.7095" stop-color="#ab2cf5"/><stop offset="0.7893" stop-color="#712cf5"/><stop offset="0.8691" stop-color="#4737ff"/><stop offset="0.9689" stop-color="#2737ff"/><stop offset="1.0008" stop-color="#2737ff"/></linearGradient><linearGradient id="g10" x1="0" y1="242.2" x2="0" y2="492.8" gradientUnits="userSpaceOnUse"><stop offset="-0.0008" stop-color="#ff1f4b"/><stop offset="0.1109" stop-color="#ff2d68"/><stop offset="0.2306" stop-color="#ff43c1"/><stop offset="0.3504" stop-color="#ff33e8"/><stop offset="0.4701" stop-color="#ff29ff"/><stop offset="0.5499" stop-color="#f419ff"/><stop offset="0.6297" stop-color="#c819ff"/><stop offset="0.7095" stop-color="#a825f4"/><stop offset="0.7893" stop-color="#6d25f4"/><stop offset="0.8691" stop-color="#4131ff"/><stop offset="0.9689" stop-color="#2131ff"/><stop offset="1.0008" stop-color="#2131ff"/></linearGradient><linearGradient id="g11" x1="0" y1="242.2" x2="0" y2="492.8" gradientUnits="userSpaceOnUse"><stop offset="-0.0008" stop-color="#ff1a47"/><stop offset="0.1109" stop-color="#ff2866"/><stop offset="0.2306" stop-color="#ff3dbb"/><stop offset="0.3504" stop-color="#ff2de5"/><stop offset="0.4701" stop-color="#ff21ff"/><stop offset="0.5499" stop-color="#f311ff"/><stop offset="0.6297" stop-color="#c611ff"/><stop offset="0.7095" stop-color="#a61ef3"/><stop offset="0.7893" stop-color="#681ef3"/><stop offset="0.8691" stop-color="#3b2bff"/><stop offset="0.9689" stop-color="#1b2bff"/><stop offset="1.0008" stop-color="#1b2bff"/></linearGradient><linearGradient id="g12" x1="0" y1="242.2" x2="0" y2="492.8" gradientUnits="userSpaceOnUse"><stop offset="-0.0008" stop-color="#ff1544"/><stop offset="0.1109" stop-color="#ff2463"/><stop offset="0.2306" stop-color="#ff36b6"/><stop offset="0.3504" stop-color="#ff26e3"/><stop offset="0.4701" stop-color="#ff18ff"/><stop offset="0.5499" stop-color="#f108ff"/><stop offset="0.6297" stop-color="#c308ff"/><stop offset="0.7095" stop-color="#a317f1"/><stop offset="0.7893" stop-color="#6417f1"/><stop offset="0.8691" stop-color="#3626ff"/><stop offset="0.9689" stop-color="#1626ff"/><stop offset="1.0008" stop-color="#1626ff"/></linearGradient><linearGradient id="g13" x1="0" y1="242.2" x2="0" y2="492.8" gradientUnits="userSpaceOnUse"><stop offset="-0.0008" stop-color="#ff1040"/><stop offset="0.1109" stop-color="#ff2060"/><stop offset="0.2306" stop-color="#ff30b0"/><stop offset="0.3504" stop-color="#ff20e0"/><stop offset="0.4701" stop-color="#ff10ff"/><stop offset="0.5499" stop-color="#f000ff"/><stop offset="0.6297" stop-color="#c000ff"/><stop offset="0.7095" stop-color="#a010f0"/><stop offset="0.7893" stop-color="#6010f0"/><stop offset="0.8691" stop-color="#3020ff"/><stop offset="0.9689" stop-color="#1020ff"/><stop offset="1.0008" stop-color="#1020ff"/></linearGradient><linearGradient id="g14" x1="0" y1="242.2" x2="0" y2="492.8" gradientUnits="userSpaceOnUse"><stop offset="-0.0008" stop-color="#ff0f3f"/><stop offset="0.1109" stop-color="#ff1e5d"/><stop offset="0.2306" stop-color="#ff2da9"/><stop offset="0.3504" stop-color="#ff1ed9"/><stop offset="0.4701" stop-color="#fd0ff7"/><stop offset="0.5499" stop-color="#ed00f9"/><stop offset="0.6297" stop-color="#bb00f8"/><stop offset="0.7095" stop-color="#9a0fe8"/><stop offset="0.7893" stop-color="#5c0fe8"/><stop offset="0.8691" stop-color="#2e1ef7"/><stop offset="0.9689" stop-color="#0f1ef9"/><stop offset="1.0008" stop-color="#0f1ef9"/></linearGradient><linearGradient id="g15" x1="0" y1="242.2" x2="0" y2="492.8" gradientUnits="userSpaceOnUse"><stop offset="-0.0008" stop-color="#fe0e3e"/><stop offset="0.1109" stop-color="#ff1c5a"/><stop offset="0.2306" stop-color="#ff2aa2"/><stop offset="0.3504" stop-color="#ff1cd2"/><stop offset="0.4701" stop-color="#fb0eef"/><stop offset="0.5499" stop-color="#ea00f3"/><stop offset="0.6297" stop-color="#b600f1"/><stop offset="0.7095" stop-color="#940ee0"/><stop offset="0.7893" stop-color="#580ee0"/><stop offset="0.8691" stop-color="#2c1cef"/><stop offset="0.9689" stop-color="#0e1cf3"/><stop offset="1.0008" stop-color="#0e1cf3"/></linearGradient><linearGradient id="g16" x1="0" y1="242.2" x2="0" y2="492.8" gradientUnits="userSpaceOnUse"><stop offset="-0.0008" stop-color="#fe0d3d"/><stop offset="0.1109" stop-color="#ff1a57"/><stop offset="0.2306" stop-color="#ff279b"/><stop offset="0.3504" stop-color="#ff1acb"/><stop offset="0.4701" stop-color="#f90de7"/><stop offset="0.5499" stop-color="#e700ed"/><stop offset="0.6297" stop-color="#b100ea"/><stop offset="0.7095" stop-color="#8e0dd8"/><stop offset="0.7893" stop-color="#540dd8"/><stop offset="0.8691" stop-color="#2a1ae7"/><stop offset="0.9689" stop-color="#0d1aed"/><stop offset="1.0008" stop-color="#0d1aed"/></linearGradient><linearGradient id="g17" x1="0" y1="242.2" x2="0" y2="492.8" gradientUnits="userSpaceOnUse"><stop offset="-0.0008" stop-color="#fd0c3c"/><stop offset="0.1109" stop-color="#ff1854"/><stop offset="0.2306" stop-color="#ff2494"/><stop offset="0.3504" stop-color="#ff18c4"/><stop offset="0.4701" stop-color="#f70ce0"/><stop offset="0.5499" stop-color="#e400e8"/><stop offset="0.6297" stop-color="#ac00e4"/><stop offset="0.7095" stop-color="#880cd0"/><stop offset="0.7893" stop-color="#500cd0"/><stop offset="0.8691" stop-color="#2818e0"/><stop offset="0.9689" stop-color="#0c18e8"/><stop offset="1.0008" stop-color="#0c18e8"/></linearGradient><linearGradient id="g18" x1="0" y1="242.2" x2="0" y2="492.8" gradientUnits="userSpaceOnUse"><stop offset="-0.0008" stop-color="#fd0b3b"/><stop offset="0.1109" stop-color="#ff1651"/><stop offset="0.2306" stop-color="#ff218d"/><stop offset="0.3504" stop-color="#ff16bd"/><stop offset="0.4701" stop-color="#f50bd8"/><stop offset="0.5499" stop-color="#e100e2"/><stop offset="0.6297" stop-color="#a700dd"/><stop offset="0.7095" stop-color="#820bc8"/><stop offset="0.7893" stop-color="#4c0bc8"/><stop offset="0.8691" stop-color="#2616d8"/><stop offset="0.9689" stop-color="#0b16e2"/><stop offset="1.0008" stop-color="#0b16e2"/></linearGradient><linearGradient id="g19" x1="0" y1="242.2" x2="0" y2="492.8" gradientUnits="userSpaceOnUse"><stop offset="-0.0008" stop-color="#fc0a3a"/><stop offset="0.1109" stop-color="#ff144e"/><stop offset="0.2306" stop-color="#ff1e87"/><stop offset="0.3504" stop-color="#ff14b7"/><stop offset="0.4701" stop-color="#f40ad0"/><stop offset="0.5499" stop-color="#de00dc"/><stop offset="0.6297" stop-color="#a200d6"/><stop offset="0.7095" stop-color="#7c0ac1"/><stop offset="0.7893" stop-color="#480ac1"/><stop offset="0.8691" stop-color="#2414d0"/><stop offset="0.9689" stop-color="#0a14dc"/><stop offset="1.0008" stop-color="#0a14dc"/></linearGradient><linearGradient id="g20" x1="0" y1="242.2" x2="0" y2="492.8" gradientUnits="userSpaceOnUse"><stop offset="-0.0008" stop-color="#fc0939"/><stop offset="0.1109" stop-color="#ff124b"/><stop offset="0.2306" stop-color="#ff1b80"/><stop offset="0.3504" stop-color="#ff12b0"/><stop offset="0.4701" stop-color="#f209c8"/><stop offset="0.5499" stop-color="#db00d6"/><stop offset="0.6297" stop-color="#9d00cf"/><stop offset="0.7095" stop-color="#7709b9"/><stop offset="0.7893" stop-color="#4409b9"/><stop offset="0.8691" stop-color="#2212c8"/><stop offset="0.9689" stop-color="#0912d6"/><stop offset="1.0008" stop-color="#0912d6"/></linearGradient><linearGradient id="g21" x1="0" y1="242.2" x2="0" y2="492.8" gradientUnits="userSpaceOnUse"><stop offset="-0.0008" stop-color="#fc0838"/><stop offset="0.1109" stop-color="#ff1048"/><stop offset="0.2306" stop-color="#ff1879"/><stop offset="0.3504" stop-color="#ff10a9"/><stop offset="0.4701" stop-color="#f008c0"/><stop offset="0.5499" stop-color="#d800d0"/><stop offset="0.6297" stop-color="#9800c8"/><stop offset="0.7095" stop-color="#7108b1"/><stop offset="0.7893" stop-color="#4008b1"/><stop offset="0.8691" stop-color="#2010c0"/><stop offset="0.9689" stop-color="#0810d0"/><stop offset="1.0008" stop-color="#0810d0"/></linearGradient><linearGradient id="g22" x1="0" y1="242.2" x2="0" y2="492.8" gradientUnits="userSpaceOnUse"><stop offset="-0.0008" stop-color="#fb0737"/><stop offset="0.1109" stop-color="#ff0d44"/><stop offset="0.2306" stop-color="#ff146f"/><stop offset="0.3504" stop-color="#ff0d9f"/><stop offset="0.4701" stop-color="#ed07b5"/><stop offset="0.5499" stop-color="#d400c8"/><stop offset="0.6297" stop-color="#9100be"/><stop offset="0.7095" stop-color="#6807a5"/><stop offset="0.7893" stop-color="#3b07a5"/><stop offset="0.8691" stop-color="#1d0db5"/><stop offset="0.9689" stop-color="#070dc8"/><stop offset="1.0008" stop-color="#070dc8"/></linearGradient><linearGradient id="g23" x1="0" y1="242.2" x2="0" y2="492.8" gradientUnits="userSpaceOnUse"><stop offset="-0.0008" stop-color="#fa0535"/><stop offset="0.1109" stop-color="#ff0a40"/><stop offset="0.2306" stop-color="#ff1064"/><stop offset="0.3504" stop-color="#ff0a94"/><stop offset="0.4701" stop-color="#ea05a9"/><stop offset="0.5499" stop-color="#d000bf"/><stop offset="0.6297" stop-color="#8a00b4"/><stop offset="0.7095" stop-color="#5f0599"/><stop offset="0.7893" stop-color="#350599"/><stop offset="0.8691" stop-color="#1a0aa9"/><stop offset="0.9689" stop-color="#050abf"/><stop offset="1.0008" stop-color="#050abf"/></linearGradient><linearGradient id="g24" x1="0" y1="242.2" x2="0" y2="492.8" gradientUnits="userSpaceOnUse"><stop offset="-0.0008" stop-color="#fa0434"/><stop offset="0.1109" stop-color="#ff073b"/><stop offset="0.2306" stop-color="#ff0b5a"/><stop offset="0.3504" stop-color="#ff078a"/><stop offset="0.4701" stop-color="#e7049d"/><stop offset="0.5499" stop-color="#cb00b6"/><stop offset="0.6297" stop-color="#8300aa"/><stop offset="0.7095" stop-color="#56048e"/><stop offset="0.7893" stop-color="#2f048e"/><stop offset="0.8691" stop-color="#17079d"/><stop offset="0.9689" stop-color="#0407b6"/><stop offset="1.0008" stop-color="#0407b6"/></linearGradient><linearGradient id="g25" x1="0" y1="242.2" x2="0" y2="492.8" gradientUnits="userSpaceOnUse"><stop offset="-0.0008" stop-color="#f90232"/><stop offset="0.1109" stop-color="#ff0437"/><stop offset="0.2306" stop-color="#ff0750"/><stop offset="0.3504" stop-color="#ff0480"/><stop offset="0.4701" stop-color="#e40292"/><stop offset="0.5499" stop-color="#c700ad"/><stop offset="0.6297" stop-color="#7b009f"/><stop offset="0.7095" stop-color="#4d0282"/><stop offset="0.7893" stop-color="#290282"/><stop offset="0.8691" stop-color="#140492"/><stop offset="0.9689" stop-color="#0204ad"/><stop offset="1.0008" stop-color="#0204ad"/></linearGradient><linearGradient id="g26" x1="0" y1="242.2" x2="0" y2="492.8" gradientUnits="userSpaceOnUse"><stop offset="-0.0008" stop-color="#f80131"/><stop offset="0.1109" stop-color="#ff0132"/><stop offset="0.2306" stop-color="#ff0245"/><stop offset="0.3504" stop-color="#ff0175"/><stop offset="0.4701" stop-color="#e10186"/><stop offset="0.5499" stop-color="#c200a4"/><stop offset="0.6297" stop-color="#740095"/><stop offset="0.7095" stop-color="#440176"/><stop offset="0.7893" stop-color="#230176"/><stop offset="0.8691" stop-color="#110186"/><stop offset="0.9689" stop-color="#0101a4"/><stop offset="1.0008" stop-color="#0101a4"/></linearGradient></defs><rect x="477.80" y="242.2" width="1.29" height="250.60000000000002" fill="url(#g0)"/><rect x="478.79" y="242.2" width="1.29" height="250.60000000000002" fill="url(#g1)"/><rect x="479.77" y="242.2" width="1.29" height="250.60000000000002" fill="url(#g2)"/><rect x="480.76" y="242.2" width="1.29" height="250.60000000000002" fill="url(#g3)"/><rect x="481.74" y="242.2" width="1.29" height="250.60000000000002" fill="url(#g4)"/><rect x="482.73" y="242.2" width="1.29" height="250.60000000000002" fill="url(#g5)"/><rect x="483.71" y="242.2" width="1.29" height="250.60000000000002" fill="url(#g6)"/><rect x="484.70" y="242.2" width="1.29" height="250.60000000000002" fill="url(#g7)"/><rect x="485.68" y="242.2" width="1.29" height="250.60000000000002" fill="url(#g8)"/><rect x="486.67" y="242.2" width="1.29" height="250.60000000000002" fill="url(#g9)"/><rect x="487.65" y="242.2" width="1.29" height="250.60000000000002" fill="url(#g10)"/><rect x="488.64" y="242.2" width="1.29" height="250.60000000000002" fill="url(#g11)"/><rect x="489.62" y="242.2" width="1.29" height="250.60000000000002" fill="url(#g12)"/><rect x="490.61" y="242.2" width="1.29" height="250.60000000000002" fill="url(#g13)"/><rect x="491.59" y="242.2" width="1.29" height="250.60000000000002" fill="url(#g14)"/><rect x="492.58" y="242.2" width="1.29" height="250.60000000000002" fill="url(#g15)"/><rect x="493.56" y="242.2" width="1.29" height="250.60000000000002" fill="url(#g16)"/><rect x="494.55" y="242.2" width="1.29" height="250.60000000000002" fill="url(#g17)"/><rect x="495.53" y="242.2" width="1.29" height="250.60000000000002" fill="url(#g18)"/><rect x="496.52" y="242.2" width="1.29" height="250.60000000000002" fill="url(#g19)"/><rect x="497.50" y="242.2" width="1.29" height="250.60000000000002" fill="url(#g20)"/><rect x="498.49" y="242.2" width="1.29" height="250.60000000000002" fill="url(#g21)"/><rect x="499.47" y="242.2" width="1.29" height="250.60000000000002" fill="url(#g22)"/><rect x="500.46" y="242.2" width="1.29" height="250.60000000000002" fill="url(#g23)"/><rect x="501.44" y="242.2" width="1.29" height="250.60000000000002" fill="url(#g24)"/><rect x="502.43" y="242.2" width="1.29" height="250.60000000000002" fill="url(#g25)"/><rect x="503.41" y="242.2" width="1.29" height="250.60000000000002" fill="url(#g26)"/>
<!-- venns -->
<g stroke="#1a1a1a" stroke-width="1.3">
<ellipse cx="197.7" cy="586.2" rx="31.7" ry="18.8" fill="#4da3ee"/>
<ellipse cx="230.9" cy="586.2" rx="32.2" ry="18.8" fill="#f8f000"/>
<ellipse cx="198.3" cy="654.9" rx="27.7" ry="18.5" fill="#4da3ee"/>
<ellipse cx="236.2" cy="653.8" rx="28" ry="18.5" fill="#f8f000"/>
<ellipse cx="363.4" cy="585.2" rx="32" ry="19.2" fill="#4da3ee"/>
<ellipse cx="397.3" cy="585.4" rx="32" ry="19" fill="#f8f000"/>
<ellipse cx="363.6" cy="654" rx="32.3" ry="19" fill="#4da3ee"/>
<ellipse cx="397.7" cy="654" rx="32" ry="19" fill="#f8f000"/>
</g>
<clipPath id="c1"><ellipse cx="197.7" cy="586.2" rx="31.7" ry="18.8"/></clipPath>
<clipPath id="c2"><ellipse cx="198.3" cy="654.9" rx="27.7" ry="18.5"/></clipPath>
<clipPath id="c3"><ellipse cx="363.4" cy="585.2" rx="32" ry="19.2"/></clipPath>
<clipPath id="c4"><ellipse cx="363.6" cy="654" rx="32.3" ry="19"/></clipPath>
<g stroke="#1a1a1a" stroke-width="1.3" fill="#33dd33">
<ellipse clip-path="url(#c1)" cx="230.9" cy="586.2" rx="32.2" ry="18.8"/>
<ellipse clip-path="url(#c2)" cx="236.2" cy="653.8" rx="28" ry="18.5"/>
<ellipse clip-path="url(#c3)" cx="397.3" cy="585.4" rx="32" ry="19"/>
<ellipse clip-path="url(#c4)" cx="397.7" cy="654" rx="32" ry="19"/>
</g>
<g fill="none" stroke="#1a1a1a" stroke-width="1.3">
<ellipse cx="197.7" cy="586.2" rx="31.7" ry="18.8"/>
<ellipse cx="198.3" cy="654.9" rx="27.7" ry="18.5"/>
<ellipse cx="363.4" cy="585.2" rx="32" ry="19.2"/>
<ellipse cx="363.6" cy="654" rx="32.3" ry="19"/>
</g>
</svg>
<div class="t" style="left:1px;top:0px;font-size:25px;font-weight:bold;">A</div>
<div class="t" style="left:142px;top:2px;font-size:20.5px;font-weight:bold;">CD34</div>
<div class="t" style="left:342px;top:2px;font-size:20px;font-weight:bold;">Stroma</div>
<div class="t ifn" style="left:83.8px;top:29.5px;">IFN-</div><div class="t ifn" style="left:111.8px;top:29.5px;font-family:&quot;Liberation Serif&quot;,serif;font-size:15px;">γ</div><div class="t ifn" style="left:129.8px;top:29.5px;">N</div>
<div class="t ifn" style="left:206.0px;top:29.0px;">IFN-</div><div class="t ifn" style="left:234.5px;top:29.0px;font-family:&quot;Liberation Serif&quot;,serif;font-size:15px;">γ</div><div class="t ifn" style="left:249.5px;top:29.0px;"><span style="display:inline-block;transform:scaleX(1.25);transform-origin:0 0">Y</span></div>
<div class="t ifn" style="left:299.5px;top:29.5px;">IFN-</div><div class="t ifn" style="left:327.5px;top:29.5px;font-family:&quot;Liberation Serif&quot;,serif;font-size:15px;">γ</div><div class="t ifn" style="left:345.5px;top:29.5px;">N</div>
<div class="t ifn" style="left:374.6px;top:29.5px;">IFN-</div><div class="t ifn" style="left:403.1px;top:29.5px;font-family:&quot;Liberation Serif&quot;,serif;font-size:15px;">γ</div><div class="t ifn" style="left:418.1px;top:29.5px;"><span style="display:inline-block;transform:scaleX(1.25);transform-origin:0 0">Y</span></div>
<div class="t" style="left:4px;top:497px;font-size:13px;">Time(h)</div>
<div class="t" style="left:57.5px;top:497px;font-size:13px;">0</div>
<div class="t" style="left:108px;top:497px;font-size:13px;">4</div>
<div class="t" style="left:154.5px;top:497px;font-size:13px;">20</div>
<div class="t" style="left:208px;top:497px;font-size:13px;">4</div>
<div class="t" style="left:256px;top:497px;font-size:13px;">20</div>
<div class="t" style="left:375px;top:496px;font-size:13px;">4</div>
<div class="t" style="left:421px;top:496px;font-size:13px;">20</div>
<div class="t" style="left:1px;top:537px;font-size:25px;font-weight:bold;">B</div>
<div class="t" style="left:45px;top:589px;font-size:13px;letter-spacing:0.2px;">Fold change</div>
<div class="t" style="left:62.5px;top:606px;font-size:13px;">≥ 2 or ≤ 2</div>
<div class="t" style="left:133px;top:544px;font-size:13px;">up</div>
<div class="t" style="left:133px;top:619.5px;font-size:13px;">down</div>
<div class="t" style="left:180px;top:544px;font-size:13px;">104</div>
<div class="t" style="left:228px;top:544px;font-size:13px;">233</div>
<div class="t" style="left:342.5px;top:543px;font-size:13px;">260</div>
<div class="t" style="left:393px;top:543px;font-size:13px;">525</div>
<div class="t" style="left:183px;top:620px;font-size:13px;">72</div>
<div class="t" style="left:229px;top:619px;font-size:13px;">68</div>
<div class="t" style="left:346px;top:619px;font-size:13px;">487</div>
<div class="t" style="left:393px;top:619px;font-size:13px;">473</div>
<div class="t" style="left:178px;top:580px;font-size:13px;">38</div>
<div class="t" style="left:206px;top:580px;font-size:13px;">66</div>
<div class="t" style="left:234px;top:580px;font-size:13px;">167</div>
<div class="t" style="left:185px;top:649px;font-size:13px;">63</div>
<div class="t" style="left:213px;top:649px;font-size:13px;">9</div>
<div class="t" style="left:232px;top:649px;font-size:13px;">59</div>
<div class="t" style="left:339px;top:579px;font-size:13px;">139</div>
<div class="t" style="left:370px;top:579px;font-size:13px;">121</div>
<div class="t" style="left:398px;top:579px;font-size:13px;">404</div>
<div class="t" style="left:340px;top:648px;font-size:13px;">251</div>
<div class="t" style="left:370px;top:648px;font-size:13px;">238</div>
<div class="t" style="left:398px;top:648px;font-size:13px;">237</div>
<div class="t" style="left:429px;top:347.5px;font-size:13.3px;transform:rotate(-90deg);transform-origin:center;width:70px;text-align:center;">Expression</div>
<div class="t" style="left:506.5px;top:254.2px;font-size:9px;letter-spacing:-0.3px;-webkit-text-stroke:0.3px #222;">5.0</div>
<div class="t" style="left:506.5px;top:268.2px;font-size:9px;letter-spacing:-0.3px;-webkit-text-stroke:0.3px #222;">4.0</div>
<div class="t" style="left:506.5px;top:285.2px;font-size:9px;letter-spacing:-0.3px;-webkit-text-stroke:0.3px #222;">3.0</div>
<div class="t" style="left:506.5px;top:295.5px;font-size:9px;letter-spacing:-0.3px;-webkit-text-stroke:0.3px #222;">2.5</div>
<div class="t" style="left:506.5px;top:307.8px;font-size:9px;letter-spacing:-0.3px;-webkit-text-stroke:0.3px #222;">2.0</div>
<div class="t" style="left:506.5px;top:324.2px;font-size:9px;letter-spacing:-0.3px;-webkit-text-stroke:0.3px #222;">1.5</div>
<div class="t" style="left:506.5px;top:338.2px;font-size:9px;letter-spacing:-0.3px;-webkit-text-stroke:0.3px #222;">1.2</div>
<div class="t" style="left:506.5px;top:362.7px;font-size:9px;letter-spacing:-0.3px;-webkit-text-stroke:0.3px #222;">1.0</div>
<div class="t" style="left:506.5px;top:374.3px;font-size:9px;letter-spacing:-0.3px;-webkit-text-stroke:0.3px #222;">0.9</div>
<div class="t" style="left:506.5px;top:386.6px;font-size:9px;letter-spacing:-0.3px;-webkit-text-stroke:0.3px #222;">0.8</div>
<div class="t" style="left:506.5px;top:398.7px;font-size:9px;letter-spacing:-0.3px;-webkit-text-stroke:0.3px #222;">0.7</div>
<div class="t" style="left:506.5px;top:410.8px;font-size:9px;letter-spacing:-0.3px;-webkit-text-stroke:0.3px #222;">0.6</div>
<div class="t" style="left:506.5px;top:422.7px;font-size:9px;letter-spacing:-0.3px;-webkit-text-stroke:0.3px #222;">0.5</div>
<div class="t" style="left:506.5px;top:435.5px;font-size:9px;letter-spacing:-0.3px;-webkit-text-stroke:0.3px #222;">0.4</div>
<div class="t" style="left:506.5px;top:447.3px;font-size:9px;letter-spacing:-0.3px;-webkit-text-stroke:0.3px #222;">0.3</div>
<div class="t" style="left:506.5px;top:458.9px;font-size:9px;letter-spacing:-0.3px;-webkit-text-stroke:0.3px #222;">0.2</div>
<div class="t" style="left:506.5px;top:471.0px;font-size:9px;letter-spacing:-0.3px;-webkit-text-stroke:0.3px #222;">0.1</div>
<div class="t" style="left:506.5px;top:480.1px;font-size:9px;letter-spacing:-0.3px;-webkit-text-stroke:0.3px #222;">0.0</div>
</body></html>
